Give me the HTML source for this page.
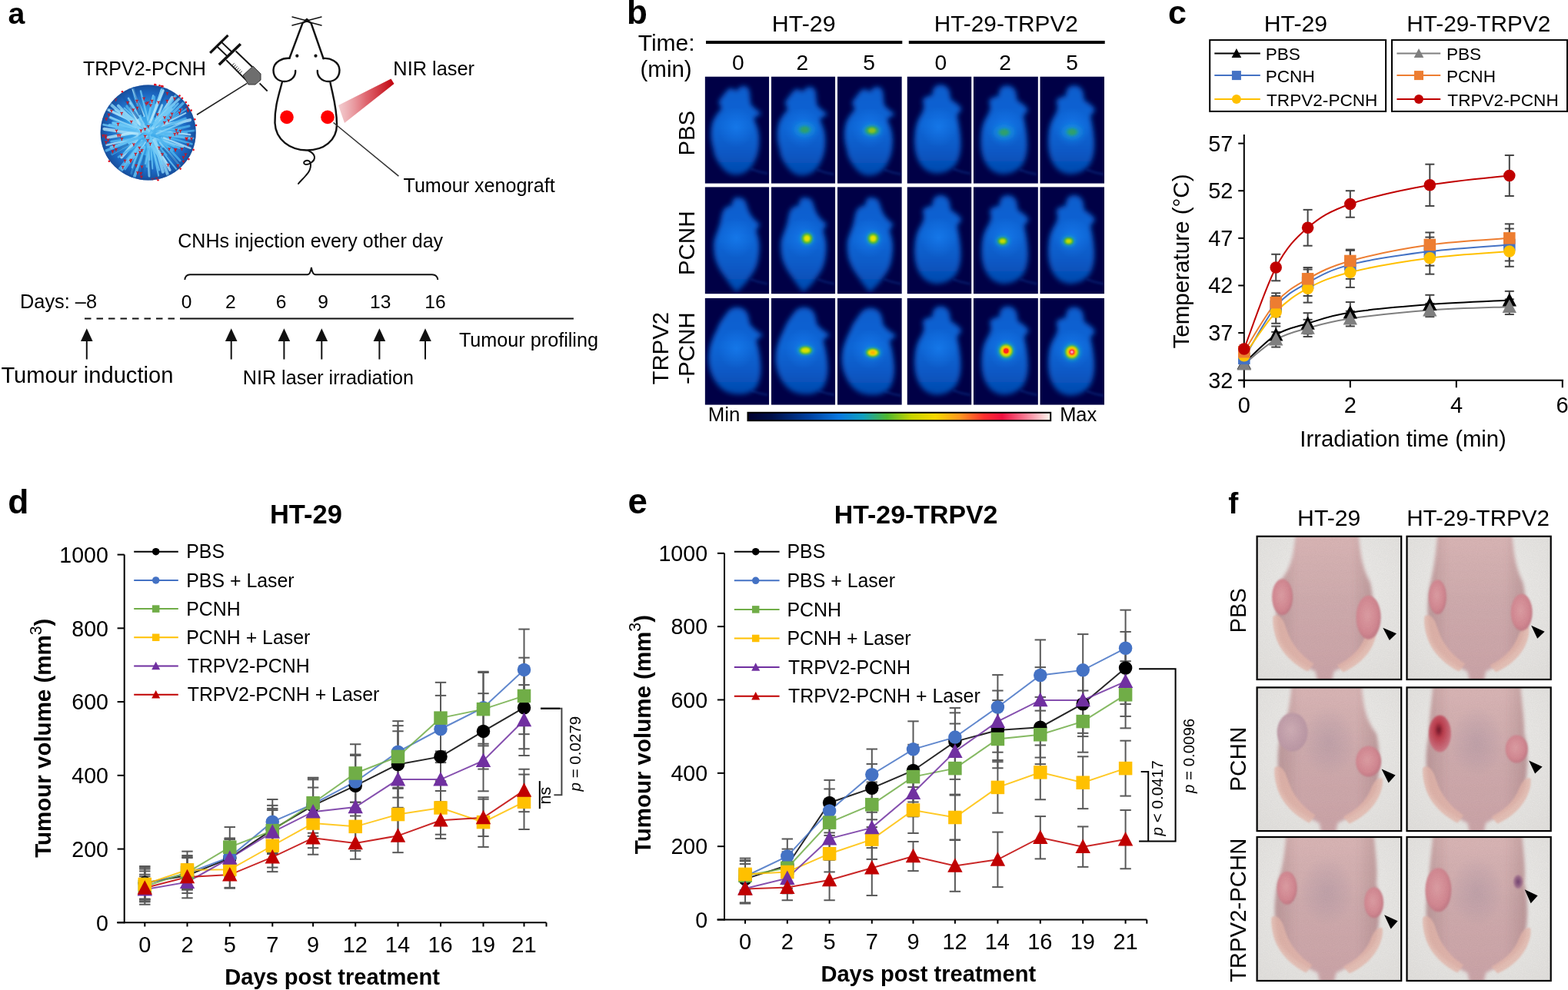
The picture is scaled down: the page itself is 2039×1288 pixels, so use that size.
<!DOCTYPE html><html><head><meta charset="utf-8"><title>Figure</title>
<style>html,body{margin:0;padding:0;background:#fff;}svg{display:block;}</style></head><body>
<svg width="2039" height="1288" viewBox="0 0 2039 1288" font-family="'Liberation Sans', Arial, Helvetica, sans-serif">
<rect width="2039" height="1288" fill="#fff"/>
<defs>
<filter id="blur3" x="-30%" y="-30%" width="160%" height="160%"><feGaussianBlur stdDeviation="2.6"/></filter>
<filter id="blur1" x="-30%" y="-30%" width="160%" height="160%"><feGaussianBlur stdDeviation="1.2"/></filter>
<filter id="blur2" x="-30%" y="-30%" width="160%" height="160%"><feGaussianBlur stdDeviation="2"/></filter>
<filter id="blur5" x="-30%" y="-30%" width="160%" height="160%"><feGaussianBlur stdDeviation="5"/></filter>
<radialGradient id="sph" cx="0.5" cy="0.5" r="0.5">
<stop offset="0" stop-color="#46b4f0"/><stop offset="0.5" stop-color="#3098e0"/><stop offset="0.82" stop-color="#1c66c0"/><stop offset="1" stop-color="#16509e"/></radialGradient>
<linearGradient id="laser" x1="0" y1="0" x2="1" y2="0">
<stop offset="0" stop-color="#e9a3a8" stop-opacity="0.55"/><stop offset="0.5" stop-color="#d94a55" stop-opacity="0.85"/><stop offset="1" stop-color="#c0000b"/></linearGradient>
<linearGradient id="cbar" x1="0" y1="0" x2="1" y2="0">
<stop offset="0" stop-color="#000030"/><stop offset="0.08" stop-color="#00104a"/><stop offset="0.2" stop-color="#0040a0"/>
<stop offset="0.3" stop-color="#0a78e0"/><stop offset="0.38" stop-color="#10a0c0"/><stop offset="0.46" stop-color="#50b830"/>
<stop offset="0.54" stop-color="#c8d400"/><stop offset="0.62" stop-color="#f8d800"/><stop offset="0.7" stop-color="#ff9820"/>
<stop offset="0.78" stop-color="#ff3030"/><stop offset="0.84" stop-color="#f01040"/><stop offset="0.92" stop-color="#f88098"/>
<stop offset="1" stop-color="#fff8f0"/></linearGradient>
</defs>
<text x="10.42" y="31.00" font-size="39.25" font-weight="bold" fill="#000">a</text>
<text x="107.90" y="98.30" font-size="25.06" fill="#000">TRPV2-PCNH</text>
<text x="511.37" y="97.70" font-size="25.36" fill="#000">NIR laser</text>
<text x="524.50" y="250.20" font-size="25.10" fill="#000">Tumour xenograft</text>
<clipPath id="sphclip"><circle cx="192.7" cy="172.5" r="62"/></clipPath>
<circle cx="192.7" cy="172.5" r="62" fill="url(#sph)"/>
<g clip-path="url(#sphclip)">
<line x1="212.75" y1="172.84" x2="242.89" y2="173.20" stroke="#5abcf2" stroke-width="2.4177844688762185" stroke-opacity="0.8" stroke-linecap="round"/>
<line x1="203.40" y1="169.99" x2="247.09" y2="175.23" stroke="#b4e6fb" stroke-width="2.667482777773956" stroke-opacity="0.8" stroke-linecap="round"/>
<line x1="208.88" y1="163.71" x2="247.12" y2="156.18" stroke="#b4e6fb" stroke-width="4.122467118476247" stroke-opacity="0.8" stroke-linecap="round"/>
<line x1="206.35" y1="167.40" x2="234.55" y2="168.91" stroke="#5abcf2" stroke-width="2.1389628241286607" stroke-opacity="0.8" stroke-linecap="round"/>
<line x1="212.06" y1="171.62" x2="246.07" y2="164.06" stroke="#4fb4ee" stroke-width="2.969168456644645" stroke-opacity="0.8" stroke-linecap="round"/>
<line x1="203.86" y1="174.03" x2="247.25" y2="179.98" stroke="#6cc8f6" stroke-width="3.0061257395190273" stroke-opacity="0.8" stroke-linecap="round"/>
<line x1="214.67" y1="174.14" x2="257.73" y2="169.30" stroke="#4fb4ee" stroke-width="2.69360987743421" stroke-opacity="0.8" stroke-linecap="round"/>
<line x1="194.49" y1="171.76" x2="249.40" y2="187.25" stroke="#4fb4ee" stroke-width="2.850329769753056" stroke-opacity="0.8" stroke-linecap="round"/>
<line x1="210.06" y1="179.48" x2="225.92" y2="189.62" stroke="#6cc8f6" stroke-width="3.033972007230066" stroke-opacity="0.8" stroke-linecap="round"/>
<line x1="199.07" y1="178.52" x2="224.69" y2="195.27" stroke="#4fb4ee" stroke-width="2.7411642401793395" stroke-opacity="0.8" stroke-linecap="round"/>
<line x1="191.59" y1="177.46" x2="237.96" y2="191.03" stroke="#8ed6f8" stroke-width="2.542053487564886" stroke-opacity="0.8" stroke-linecap="round"/>
<line x1="194.71" y1="168.95" x2="251.78" y2="180.05" stroke="#5abcf2" stroke-width="2.4144480286861563" stroke-opacity="0.8" stroke-linecap="round"/>
<line x1="212.97" y1="179.36" x2="247.72" y2="192.90" stroke="#b4e6fb" stroke-width="2.2563175728073523" stroke-opacity="0.8" stroke-linecap="round"/>
<line x1="195.22" y1="179.35" x2="233.13" y2="192.45" stroke="#5abcf2" stroke-width="2.669119329716177" stroke-opacity="0.8" stroke-linecap="round"/>
<line x1="196.80" y1="180.20" x2="230.00" y2="220.84" stroke="#6cc8f6" stroke-width="2.0926372049485424" stroke-opacity="0.8" stroke-linecap="round"/>
<line x1="197.97" y1="180.61" x2="216.22" y2="201.70" stroke="#4fb4ee" stroke-width="2.849573902498758" stroke-opacity="0.8" stroke-linecap="round"/>
<line x1="200.04" y1="171.89" x2="234.24" y2="208.96" stroke="#4fb4ee" stroke-width="2.817748902505102" stroke-opacity="0.8" stroke-linecap="round"/>
<line x1="203.33" y1="190.42" x2="219.66" y2="215.44" stroke="#b4e6fb" stroke-width="2.4022209747131074" stroke-opacity="0.8" stroke-linecap="round"/>
<line x1="207.83" y1="185.49" x2="234.10" y2="216.06" stroke="#8ed6f8" stroke-width="2.3486465620006145" stroke-opacity="0.8" stroke-linecap="round"/>
<line x1="199.65" y1="182.40" x2="220.95" y2="221.30" stroke="#b4e6fb" stroke-width="3.327775272523576" stroke-opacity="0.8" stroke-linecap="round"/>
<line x1="189.35" y1="177.47" x2="209.46" y2="207.36" stroke="#8ed6f8" stroke-width="3.6276230495428656" stroke-opacity="0.8" stroke-linecap="round"/>
<line x1="198.12" y1="191.37" x2="207.11" y2="221.32" stroke="#6cc8f6" stroke-width="2.278080383706629" stroke-opacity="0.8" stroke-linecap="round"/>
<line x1="201.36" y1="184.84" x2="211.93" y2="223.63" stroke="#8ed6f8" stroke-width="4.018192392683666" stroke-opacity="0.8" stroke-linecap="round"/>
<line x1="193.44" y1="172.59" x2="210.18" y2="213.66" stroke="#6cc8f6" stroke-width="2.1025159030240648" stroke-opacity="0.8" stroke-linecap="round"/>
<line x1="201.27" y1="181.62" x2="219.53" y2="231.19" stroke="#8ed6f8" stroke-width="3.9600685059335876" stroke-opacity="0.8" stroke-linecap="round"/>
<line x1="192.34" y1="186.79" x2="194.26" y2="228.97" stroke="#8ed6f8" stroke-width="3.297726388850638" stroke-opacity="0.8" stroke-linecap="round"/>
<line x1="195.68" y1="182.62" x2="198.28" y2="219.40" stroke="#6cc8f6" stroke-width="2.046770192060023" stroke-opacity="0.8" stroke-linecap="round"/>
<line x1="196.88" y1="182.34" x2="206.10" y2="228.54" stroke="#6cc8f6" stroke-width="2.1655783802032444" stroke-opacity="0.8" stroke-linecap="round"/>
<line x1="183.84" y1="190.08" x2="171.00" y2="226.09" stroke="#4fb4ee" stroke-width="2.7740350126239584" stroke-opacity="0.8" stroke-linecap="round"/>
<line x1="187.50" y1="191.37" x2="174.31" y2="231.20" stroke="#6cc8f6" stroke-width="3.899639882891152" stroke-opacity="0.8" stroke-linecap="round"/>
<line x1="188.12" y1="185.30" x2="178.96" y2="218.36" stroke="#5abcf2" stroke-width="2.1589480040702558" stroke-opacity="0.8" stroke-linecap="round"/>
<line x1="193.56" y1="175.06" x2="191.13" y2="216.86" stroke="#4fb4ee" stroke-width="2.854559930081317" stroke-opacity="0.8" stroke-linecap="round"/>
<line x1="184.65" y1="183.02" x2="172.29" y2="217.77" stroke="#6cc8f6" stroke-width="3.1411337096278547" stroke-opacity="0.8" stroke-linecap="round"/>
<line x1="196.63" y1="180.42" x2="188.66" y2="212.36" stroke="#6cc8f6" stroke-width="3.0939512708476298" stroke-opacity="0.8" stroke-linecap="round"/>
<line x1="192.64" y1="193.32" x2="185.70" y2="216.67" stroke="#4fb4ee" stroke-width="2.3150848306112093" stroke-opacity="0.8" stroke-linecap="round"/>
<line x1="178.08" y1="181.47" x2="158.15" y2="204.43" stroke="#b4e6fb" stroke-width="3.9617992246990217" stroke-opacity="0.8" stroke-linecap="round"/>
<line x1="184.85" y1="184.66" x2="168.17" y2="207.51" stroke="#8ed6f8" stroke-width="3.936591619783762" stroke-opacity="0.8" stroke-linecap="round"/>
<line x1="188.44" y1="185.19" x2="168.09" y2="211.64" stroke="#b4e6fb" stroke-width="2.771639308643418" stroke-opacity="0.8" stroke-linecap="round"/>
<line x1="188.35" y1="168.61" x2="158.96" y2="192.87" stroke="#8ed6f8" stroke-width="2.2482246264176724" stroke-opacity="0.8" stroke-linecap="round"/>
<line x1="180.93" y1="188.84" x2="155.16" y2="219.81" stroke="#5abcf2" stroke-width="3.08652580737117" stroke-opacity="0.8" stroke-linecap="round"/>
<line x1="182.50" y1="187.60" x2="155.34" y2="225.20" stroke="#6cc8f6" stroke-width="3.823200186113035" stroke-opacity="0.8" stroke-linecap="round"/>
<line x1="187.31" y1="184.82" x2="162.74" y2="220.03" stroke="#4fb4ee" stroke-width="2.679866773101911" stroke-opacity="0.8" stroke-linecap="round"/>
<line x1="193.31" y1="178.89" x2="153.87" y2="204.34" stroke="#4fb4ee" stroke-width="2.5222998195466353" stroke-opacity="0.8" stroke-linecap="round"/>
<line x1="192.13" y1="173.56" x2="145.48" y2="200.23" stroke="#5abcf2" stroke-width="3.4410946891294034" stroke-opacity="0.8" stroke-linecap="round"/>
<line x1="173.24" y1="180.68" x2="138.64" y2="188.64" stroke="#b4e6fb" stroke-width="2.563292886265437" stroke-opacity="0.8" stroke-linecap="round"/>
<line x1="178.37" y1="182.19" x2="143.89" y2="191.62" stroke="#8ed6f8" stroke-width="2.5991808601683712" stroke-opacity="0.8" stroke-linecap="round"/>
<line x1="178.37" y1="177.55" x2="145.10" y2="192.77" stroke="#8ed6f8" stroke-width="2.8657356654649675" stroke-opacity="0.8" stroke-linecap="round"/>
<line x1="172.37" y1="171.99" x2="152.94" y2="176.60" stroke="#b4e6fb" stroke-width="2.285801826351184" stroke-opacity="0.8" stroke-linecap="round"/>
<line x1="180.65" y1="178.93" x2="135.17" y2="197.19" stroke="#5abcf2" stroke-width="3.435882316041781" stroke-opacity="0.8" stroke-linecap="round"/>
<line x1="186.14" y1="165.72" x2="147.67" y2="160.25" stroke="#6cc8f6" stroke-width="3.588258432638261" stroke-opacity="0.8" stroke-linecap="round"/>
<line x1="178.43" y1="173.95" x2="135.56" y2="167.87" stroke="#b4e6fb" stroke-width="4.157084932873049" stroke-opacity="0.8" stroke-linecap="round"/>
<line x1="180.86" y1="172.17" x2="134.30" y2="162.21" stroke="#6cc8f6" stroke-width="2.7667154946206685" stroke-opacity="0.8" stroke-linecap="round"/>
<line x1="182.71" y1="171.07" x2="140.44" y2="178.89" stroke="#b4e6fb" stroke-width="4.0234677796252285" stroke-opacity="0.8" stroke-linecap="round"/>
<line x1="174.70" y1="180.35" x2="144.59" y2="184.08" stroke="#5abcf2" stroke-width="2.7370095201617746" stroke-opacity="0.8" stroke-linecap="round"/>
<line x1="189.70" y1="171.92" x2="151.71" y2="167.05" stroke="#5abcf2" stroke-width="3.8479481733690934" stroke-opacity="0.8" stroke-linecap="round"/>
<line x1="172.70" y1="165.40" x2="142.39" y2="162.85" stroke="#6cc8f6" stroke-width="3.6672461844020425" stroke-opacity="0.8" stroke-linecap="round"/>
<line x1="174.74" y1="168.17" x2="143.47" y2="152.81" stroke="#5abcf2" stroke-width="3.8559714778949807" stroke-opacity="0.8" stroke-linecap="round"/>
<line x1="188.46" y1="165.80" x2="151.60" y2="147.67" stroke="#5abcf2" stroke-width="2.4581270595625284" stroke-opacity="0.8" stroke-linecap="round"/>
<line x1="175.66" y1="160.17" x2="149.97" y2="143.15" stroke="#8ed6f8" stroke-width="2.9043837515934414" stroke-opacity="0.8" stroke-linecap="round"/>
<line x1="192.72" y1="172.03" x2="146.71" y2="159.75" stroke="#6cc8f6" stroke-width="3.135239097611442" stroke-opacity="0.8" stroke-linecap="round"/>
<line x1="176.56" y1="166.04" x2="143.67" y2="152.64" stroke="#8ed6f8" stroke-width="2.1449805024848643" stroke-opacity="0.8" stroke-linecap="round"/>
<line x1="186.81" y1="164.03" x2="137.30" y2="140.26" stroke="#4fb4ee" stroke-width="2.5418104174804337" stroke-opacity="0.8" stroke-linecap="round"/>
<line x1="188.16" y1="164.69" x2="138.14" y2="141.89" stroke="#b4e6fb" stroke-width="3.154959925248267" stroke-opacity="0.8" stroke-linecap="round"/>
<line x1="193.87" y1="170.28" x2="161.66" y2="140.58" stroke="#6cc8f6" stroke-width="2.078374682568271" stroke-opacity="0.8" stroke-linecap="round"/>
<line x1="194.07" y1="170.18" x2="157.78" y2="143.79" stroke="#8ed6f8" stroke-width="3.3634859390363836" stroke-opacity="0.8" stroke-linecap="round"/>
<line x1="179.74" y1="163.36" x2="159.39" y2="149.25" stroke="#4fb4ee" stroke-width="3.5789317029342316" stroke-opacity="0.8" stroke-linecap="round"/>
<line x1="181.61" y1="156.91" x2="169.48" y2="142.57" stroke="#5abcf2" stroke-width="3.3547476451948484" stroke-opacity="0.8" stroke-linecap="round"/>
<line x1="177.18" y1="161.45" x2="153.87" y2="137.60" stroke="#8ed6f8" stroke-width="3.872767974395088" stroke-opacity="0.8" stroke-linecap="round"/>
<line x1="182.27" y1="156.84" x2="165.32" y2="138.33" stroke="#4fb4ee" stroke-width="3.9858905658013892" stroke-opacity="0.8" stroke-linecap="round"/>
<line x1="185.29" y1="170.69" x2="142.35" y2="134.58" stroke="#8ed6f8" stroke-width="3.9525917173407668" stroke-opacity="0.8" stroke-linecap="round"/>
<line x1="181.50" y1="160.39" x2="169.06" y2="134.56" stroke="#b4e6fb" stroke-width="3.195208878352186" stroke-opacity="0.8" stroke-linecap="round"/>
<line x1="195.13" y1="167.41" x2="182.96" y2="118.53" stroke="#6cc8f6" stroke-width="2.4420549411608286" stroke-opacity="0.8" stroke-linecap="round"/>
<line x1="183.26" y1="154.52" x2="172.10" y2="111.50" stroke="#5abcf2" stroke-width="3.3962554832394405" stroke-opacity="0.8" stroke-linecap="round"/>
<line x1="187.54" y1="151.14" x2="172.34" y2="115.48" stroke="#b4e6fb" stroke-width="2.2335813079287883" stroke-opacity="0.8" stroke-linecap="round"/>
<line x1="187.28" y1="161.80" x2="167.00" y2="127.79" stroke="#8ed6f8" stroke-width="2.41705649946615" stroke-opacity="0.8" stroke-linecap="round"/>
<line x1="188.61" y1="170.48" x2="170.34" y2="137.31" stroke="#6cc8f6" stroke-width="3.2755132908841906" stroke-opacity="0.8" stroke-linecap="round"/>
<line x1="181.42" y1="161.80" x2="169.74" y2="140.16" stroke="#b4e6fb" stroke-width="3.0273117075724563" stroke-opacity="0.8" stroke-linecap="round"/>
<line x1="197.63" y1="160.19" x2="202.46" y2="136.14" stroke="#8ed6f8" stroke-width="2.3987922109477435" stroke-opacity="0.8" stroke-linecap="round"/>
<line x1="192.45" y1="156.05" x2="199.17" y2="124.29" stroke="#8ed6f8" stroke-width="2.2085636371942887" stroke-opacity="0.8" stroke-linecap="round"/>
<line x1="199.00" y1="167.36" x2="210.39" y2="136.87" stroke="#b4e6fb" stroke-width="3.253304708891595" stroke-opacity="0.8" stroke-linecap="round"/>
<line x1="197.01" y1="160.16" x2="200.17" y2="126.28" stroke="#4fb4ee" stroke-width="4.004857862411461" stroke-opacity="0.8" stroke-linecap="round"/>
<line x1="197.21" y1="156.19" x2="211.42" y2="115.56" stroke="#4fb4ee" stroke-width="3.935651323091407" stroke-opacity="0.8" stroke-linecap="round"/>
<line x1="196.78" y1="156.32" x2="209.75" y2="116.48" stroke="#8ed6f8" stroke-width="2.1552136402885065" stroke-opacity="0.8" stroke-linecap="round"/>
<line x1="192.60" y1="162.18" x2="196.94" y2="135.20" stroke="#5abcf2" stroke-width="2.1090535812872337" stroke-opacity="0.8" stroke-linecap="round"/>
<line x1="196.61" y1="167.21" x2="223.17" y2="141.82" stroke="#8ed6f8" stroke-width="3.172775289185604" stroke-opacity="0.8" stroke-linecap="round"/>
<line x1="206.21" y1="155.35" x2="223.87" y2="126.97" stroke="#b4e6fb" stroke-width="4.15619076389677" stroke-opacity="0.8" stroke-linecap="round"/>
<line x1="195.15" y1="159.05" x2="212.26" y2="118.02" stroke="#b4e6fb" stroke-width="3.110474830202797" stroke-opacity="0.8" stroke-linecap="round"/>
<line x1="199.79" y1="160.02" x2="215.25" y2="142.40" stroke="#4fb4ee" stroke-width="3.9924151819189273" stroke-opacity="0.8" stroke-linecap="round"/>
<line x1="199.83" y1="164.06" x2="231.02" y2="121.01" stroke="#6cc8f6" stroke-width="3.4036277173277494" stroke-opacity="0.8" stroke-linecap="round"/>
<line x1="196.11" y1="173.38" x2="231.37" y2="134.87" stroke="#6cc8f6" stroke-width="2.85013067905857" stroke-opacity="0.8" stroke-linecap="round"/>
<line x1="201.68" y1="169.71" x2="241.69" y2="130.69" stroke="#5abcf2" stroke-width="3.3445775204333437" stroke-opacity="0.8" stroke-linecap="round"/>
<line x1="201.60" y1="170.16" x2="241.23" y2="154.08" stroke="#4fb4ee" stroke-width="3.166897593652091" stroke-opacity="0.8" stroke-linecap="round"/>
<line x1="198.66" y1="170.88" x2="246.30" y2="139.08" stroke="#4fb4ee" stroke-width="2.0590948822410957" stroke-opacity="0.8" stroke-linecap="round"/>
<line x1="203.60" y1="165.86" x2="241.34" y2="147.10" stroke="#b4e6fb" stroke-width="2.116141196896081" stroke-opacity="0.8" stroke-linecap="round"/>
<line x1="201.15" y1="169.30" x2="236.47" y2="141.74" stroke="#4fb4ee" stroke-width="2.1617094215355928" stroke-opacity="0.8" stroke-linecap="round"/>
<line x1="203.50" y1="174.07" x2="241.41" y2="157.92" stroke="#8ed6f8" stroke-width="2.099954689676991" stroke-opacity="0.8" stroke-linecap="round"/>
<line x1="202.53" y1="157.32" x2="235.21" y2="126.39" stroke="#8ed6f8" stroke-width="3.327971240536074" stroke-opacity="0.8" stroke-linecap="round"/>
<line x1="200.18" y1="160.66" x2="226.78" y2="135.85" stroke="#6cc8f6" stroke-width="2.7847335574166427" stroke-opacity="0.8" stroke-linecap="round"/>
<line x1="206.99" y1="193.45" x2="229.38" y2="226.28" stroke="#1458a8" stroke-width="2.279556507883836" stroke-opacity="0.6"/>
<line x1="166.88" y1="187.34" x2="136.26" y2="204.94" stroke="#1458a8" stroke-width="3.279186317059944" stroke-opacity="0.6"/>
<line x1="182.19" y1="149.41" x2="165.73" y2="113.25" stroke="#1458a8" stroke-width="3.4877336998398043" stroke-opacity="0.6"/>
<line x1="201.11" y1="153.10" x2="218.60" y2="112.78" stroke="#1458a8" stroke-width="2.5802581568700775" stroke-opacity="0.6"/>
<line x1="211.70" y1="192.45" x2="237.60" y2="219.64" stroke="#1458a8" stroke-width="3.0058969094261467" stroke-opacity="0.6"/>
<line x1="182.61" y1="198.66" x2="169.27" y2="233.24" stroke="#1458a8" stroke-width="3.693123301255463" stroke-opacity="0.6"/>
<line x1="188.06" y1="202.08" x2="182.62" y2="236.81" stroke="#1458a8" stroke-width="3.450150989962971" stroke-opacity="0.6"/>
<line x1="185.73" y1="151.49" x2="172.21" y2="110.71" stroke="#1458a8" stroke-width="2.5572813414536357" stroke-opacity="0.6"/>
<line x1="195.11" y1="208.73" x2="197.02" y2="237.46" stroke="#1458a8" stroke-width="3.004298150237215" stroke-opacity="0.6"/>
<line x1="179.96" y1="154.26" x2="155.41" y2="119.14" stroke="#1458a8" stroke-width="3.3663410550282578" stroke-opacity="0.6"/>
<path d="M186.9,166.5 L188.5,168.1 L190.1,166.5 M188.5,168.1 L188.5,170.3" stroke="#d0101c" stroke-width="1.2" fill="none"/>
<path d="M190.5,181.1 L192.1,182.7 L193.7,181.1 M192.1,182.7 L192.1,184.9" stroke="#d0101c" stroke-width="1.2" fill="none"/>
<path d="M219.5,177.8 L221.1,179.4 L222.7,177.8 M221.1,179.4 L221.1,181.6" stroke="#d0101c" stroke-width="1.2" fill="none"/>
<path d="M181.6,224.0 L183.2,225.6 L184.8,224.0 M183.2,225.6 L183.2,227.8" stroke="#d0101c" stroke-width="1.2" fill="none"/>
<path d="M212.3,158.0 L213.9,159.6 L215.5,158.0 M213.9,159.6 L213.9,161.8" stroke="#d0101c" stroke-width="1.2" fill="none"/>
<path d="M197.0,232.0 L198.6,233.6 L200.2,232.0 M198.6,233.6 L198.6,235.8" stroke="#d0101c" stroke-width="1.2" fill="none"/>
<path d="M154.4,174.6 L156.0,176.2 L157.6,174.6 M156.0,176.2 L156.0,178.4" stroke="#d0101c" stroke-width="1.2" fill="none"/>
<path d="M168.1,208.0 L169.7,209.6 L171.3,208.0 M169.7,209.6 L169.7,211.8" stroke="#d0101c" stroke-width="1.2" fill="none"/>
<path d="M229.8,213.9 L231.4,215.5 L233.0,213.9 M231.4,215.5 L231.4,217.7" stroke="#d0101c" stroke-width="1.2" fill="none"/>
<path d="M204.5,131.6 L206.1,133.2 L207.7,131.6 M206.1,133.2 L206.1,135.4" stroke="#d0101c" stroke-width="1.2" fill="none"/>
<path d="M215.9,119.9 L217.5,121.5 L219.1,119.9 M217.5,121.5 L217.5,123.7" stroke="#d0101c" stroke-width="1.2" fill="none"/>
<path d="M196.0,129.9 L197.6,131.5 L199.2,129.9 M197.6,131.5 L197.6,133.7" stroke="#d0101c" stroke-width="1.2" fill="none"/>
<path d="M190.4,132.2 L192.0,133.8 L193.6,132.2 M192.0,133.8 L192.0,136.0" stroke="#d0101c" stroke-width="1.2" fill="none"/>
<path d="M205.3,190.6 L206.9,192.2 L208.5,190.6 M206.9,192.2 L206.9,194.4" stroke="#d0101c" stroke-width="1.2" fill="none"/>
<path d="M215.8,129.9 L217.4,131.5 L219.0,129.9 M217.4,131.5 L217.4,133.7" stroke="#d0101c" stroke-width="1.2" fill="none"/>
<path d="M177.4,223.1 L179.0,224.7 L180.6,223.1 M179.0,224.7 L179.0,226.9" stroke="#d0101c" stroke-width="1.2" fill="none"/>
<path d="M203.3,147.3 L204.9,148.9 L206.5,147.3 M204.9,148.9 L204.9,151.1" stroke="#d0101c" stroke-width="1.2" fill="none"/>
<path d="M164.3,132.0 L165.9,133.6 L167.5,132.0 M165.9,133.6 L165.9,135.8" stroke="#d0101c" stroke-width="1.2" fill="none"/>
<path d="M156.8,179.2 L158.4,180.8 L160.0,179.2 M158.4,180.8 L158.4,183.0" stroke="#d0101c" stroke-width="1.2" fill="none"/>
<path d="M151.9,159.9 L153.5,161.5 L155.1,159.9 M153.5,161.5 L153.5,163.7" stroke="#d0101c" stroke-width="1.2" fill="none"/>
<path d="M140.1,147.7 L141.7,149.3 L143.3,147.7 M141.7,149.3 L141.7,151.5" stroke="#d0101c" stroke-width="1.2" fill="none"/>
<path d="M136.3,183.7 L137.9,185.3 L139.5,183.7 M137.9,185.3 L137.9,187.5" stroke="#d0101c" stroke-width="1.2" fill="none"/>
<path d="M225.6,172.9 L227.2,174.5 L228.8,172.9 M227.2,174.5 L227.2,176.7" stroke="#d0101c" stroke-width="1.2" fill="none"/>
<path d="M231.9,145.3 L233.5,146.9 L235.1,145.3 M233.5,146.9 L233.5,149.1" stroke="#d0101c" stroke-width="1.2" fill="none"/>
<path d="M176.4,129.9 L178.0,131.5 L179.6,129.9 M178.0,131.5 L178.0,133.7" stroke="#d0101c" stroke-width="1.2" fill="none"/>
<path d="M194.3,135.5 L195.9,137.1 L197.5,135.5 M195.9,137.1 L195.9,139.3" stroke="#d0101c" stroke-width="1.2" fill="none"/>
<path d="M212.5,151.3 L214.1,152.9 L215.7,151.3 M214.1,152.9 L214.1,155.1" stroke="#d0101c" stroke-width="1.2" fill="none"/>
<path d="M171.6,141.3 L173.2,142.9 L174.8,141.3 M173.2,142.9 L173.2,145.1" stroke="#d0101c" stroke-width="1.2" fill="none"/>
<path d="M220.4,151.3 L222.0,152.9 L223.6,151.3 M222.0,152.9 L222.0,155.1" stroke="#d0101c" stroke-width="1.2" fill="none"/>
<path d="M146.5,188.2 L148.1,189.8 L149.7,188.2 M148.1,189.8 L148.1,192.0" stroke="#d0101c" stroke-width="1.2" fill="none"/>
<path d="M233.1,141.3 L234.7,142.9 L236.3,141.3 M234.7,142.9 L234.7,145.1" stroke="#d0101c" stroke-width="1.2" fill="none"/>
<path d="M182.9,215.3 L184.5,216.9 L186.1,215.3 M184.5,216.9 L184.5,219.1" stroke="#d0101c" stroke-width="1.2" fill="none"/>
<path d="M233.0,168.9 L234.6,170.5 L236.2,168.9 M234.6,170.5 L234.6,172.7" stroke="#d0101c" stroke-width="1.2" fill="none"/>
<path d="M202.1,230.9 L203.7,232.5 L205.3,230.9 M203.7,232.5 L203.7,234.7" stroke="#d0101c" stroke-width="1.2" fill="none"/>
<path d="M185.5,126.7 L187.1,128.3 L188.7,126.7 M187.1,128.3 L187.1,130.5" stroke="#d0101c" stroke-width="1.2" fill="none"/>
<path d="M239.8,199.4 L241.4,201.0 L243.0,199.4 M241.4,201.0 L241.4,203.2" stroke="#d0101c" stroke-width="1.2" fill="none"/>
<path d="M241.5,178.6 L243.1,180.2 L244.7,178.6 M243.1,180.2 L243.1,182.4" stroke="#d0101c" stroke-width="1.2" fill="none"/>
<path d="M143.4,142.8 L145.0,144.4 L146.6,142.8 M145.0,144.4 L145.0,146.6" stroke="#d0101c" stroke-width="1.2" fill="none"/>
<path d="M188.5,133.4 L190.1,135.0 L191.7,133.4 M190.1,135.0 L190.1,137.2" stroke="#d0101c" stroke-width="1.2" fill="none"/>
<path d="M172.3,186.4 L173.9,188.0 L175.5,186.4 M173.9,188.0 L173.9,190.2" stroke="#d0101c" stroke-width="1.2" fill="none"/>
<path d="M169.2,156.8 L170.8,158.4 L172.4,156.8 M170.8,158.4 L170.8,160.6" stroke="#d0101c" stroke-width="1.2" fill="none"/>
<path d="M226.4,193.2 L228.0,194.8 L229.6,193.2 M228.0,194.8 L228.0,197.0" stroke="#d0101c" stroke-width="1.2" fill="none"/>
<path d="M225.3,126.7 L226.9,128.3 L228.5,126.7 M226.9,128.3 L226.9,130.5" stroke="#d0101c" stroke-width="1.2" fill="none"/>
<path d="M193.8,185.6 L195.4,187.2 L197.0,185.6 M195.4,187.2 L195.4,189.4" stroke="#d0101c" stroke-width="1.2" fill="none"/>
<path d="M209.4,199.2 L211.0,200.8 L212.6,199.2 M211.0,200.8 L211.0,203.0" stroke="#d0101c" stroke-width="1.2" fill="none"/>
<path d="M247.4,178.9 L249.0,180.5 L250.6,178.9 M249.0,180.5 L249.0,182.7" stroke="#d0101c" stroke-width="1.2" fill="none"/>
<path d="M149.3,193.0 L150.9,194.6 L152.5,193.0 M150.9,194.6 L150.9,196.8" stroke="#d0101c" stroke-width="1.2" fill="none"/>
<path d="M175.5,213.9 L177.1,215.5 L178.7,213.9 M177.1,215.5 L177.1,217.7" stroke="#d0101c" stroke-width="1.2" fill="none"/>
<path d="M174.7,198.9 L176.3,200.5 L177.9,198.9 M176.3,200.5 L176.3,202.7" stroke="#d0101c" stroke-width="1.2" fill="none"/>
<path d="M218.5,192.3 L220.1,193.9 L221.7,192.3 M220.1,193.9 L220.1,196.1" stroke="#d0101c" stroke-width="1.2" fill="none"/>
<path d="M240.6,179.0 L242.2,180.6 L243.8,179.0 M242.2,180.6 L242.2,182.8" stroke="#d0101c" stroke-width="1.2" fill="none"/>
<path d="M236.9,203.1 L238.5,204.7 L240.1,203.1 M238.5,204.7 L238.5,206.9" stroke="#d0101c" stroke-width="1.2" fill="none"/>
<path d="M144.9,195.5 L146.5,197.1 L148.1,195.5 M146.5,197.1 L146.5,199.3" stroke="#d0101c" stroke-width="1.2" fill="none"/>
<path d="M132.2,175.0 L133.8,176.6 L135.4,175.0 M133.8,176.6 L133.8,178.8" stroke="#d0101c" stroke-width="1.2" fill="none"/>
<path d="M169.0,206.6 L170.6,208.2 L172.2,206.6 M170.6,208.2 L170.6,210.4" stroke="#d0101c" stroke-width="1.2" fill="none"/>
<path d="M158.2,215.9 L159.8,217.5 L161.4,215.9 M159.8,217.5 L159.8,219.7" stroke="#d0101c" stroke-width="1.2" fill="none"/>
<path d="M179.7,190.8 L181.3,192.4 L182.9,190.8 M181.3,192.4 L181.3,194.6" stroke="#d0101c" stroke-width="1.2" fill="none"/>
<path d="M135.6,175.1 L137.2,176.7 L138.8,175.1 M137.2,176.7 L137.2,178.9" stroke="#d0101c" stroke-width="1.2" fill="none"/>
<path d="M234.9,192.3 L236.5,193.9 L238.1,192.3 M236.5,193.9 L236.5,196.1" stroke="#d0101c" stroke-width="1.2" fill="none"/>
<path d="M242.8,186.4 L244.4,188.0 L246.0,186.4 M244.4,188.0 L244.4,190.2" stroke="#d0101c" stroke-width="1.2" fill="none"/>
<path d="M227.6,167.6 L229.2,169.2 L230.8,167.6 M229.2,169.2 L229.2,171.4" stroke="#d0101c" stroke-width="1.2" fill="none"/>
<path d="M229.2,171.8 L230.8,173.4 L232.4,171.8 M230.8,173.4 L230.8,175.6" stroke="#d0101c" stroke-width="1.2" fill="none"/>
<path d="M226.9,193.4 L228.5,195.0 L230.1,193.4 M228.5,195.0 L228.5,197.2" stroke="#d0101c" stroke-width="1.2" fill="none"/>
<path d="M181.8,168.4 L183.4,170.0 L185.0,168.4 M183.4,170.0 L183.4,172.2" stroke="#d0101c" stroke-width="1.2" fill="none"/>
<path d="M187.1,175.7 L188.7,177.3 L190.3,175.7 M188.7,177.3 L188.7,179.5" stroke="#d0101c" stroke-width="1.2" fill="none"/>
<path d="M237.0,208.9 L238.6,210.5 L240.2,208.9 M238.6,210.5 L238.6,212.7" stroke="#d0101c" stroke-width="1.2" fill="none"/>
<path d="M217.6,155.3 L219.2,156.9 L220.8,155.3 M219.2,156.9 L219.2,159.1" stroke="#d0101c" stroke-width="1.2" fill="none"/>
<path d="M217.0,213.0 L218.6,214.6 L220.2,213.0 M218.6,214.6 L218.6,216.8" stroke="#d0101c" stroke-width="1.2" fill="none"/>
<path d="M177.0,138.8 L178.6,140.4 L180.2,138.8 M178.6,140.4 L178.6,142.6" stroke="#d0101c" stroke-width="1.2" fill="none"/>
<path d="M156.5,199.8 L158.1,201.4 L159.7,199.8 M158.1,201.4 L158.1,203.6" stroke="#d0101c" stroke-width="1.2" fill="none"/>
<path d="M182.3,228.6 L183.9,230.2 L185.5,228.6 M183.9,230.2 L183.9,232.4" stroke="#d0101c" stroke-width="1.2" fill="none"/>
<path d="M139.0,180.4 L140.6,182.0 L142.2,180.4 M140.6,182.0 L140.6,184.2" stroke="#d0101c" stroke-width="1.2" fill="none"/>
<path d="M183.0,194.0 L184.6,195.6 L186.2,194.0 M184.6,195.6 L184.6,197.8" stroke="#d0101c" stroke-width="1.2" fill="none"/>
<path d="M242.9,142.3 L244.5,143.9 L246.1,142.3 M244.5,143.9 L244.5,146.1" stroke="#d0101c" stroke-width="1.2" fill="none"/>
<path d="M191.3,162.8 L192.9,164.4 L194.5,162.8 M192.9,164.4 L192.9,166.6" stroke="#d0101c" stroke-width="1.2" fill="none"/>
<path d="M136.0,177.5 L137.6,179.1 L139.2,177.5 M137.6,179.1 L137.6,181.3" stroke="#d0101c" stroke-width="1.2" fill="none"/>
<path d="M180.5,196.4 L182.1,198.0 L183.7,196.4 M182.1,198.0 L182.1,200.2" stroke="#d0101c" stroke-width="1.2" fill="none"/>
<path d="M160.9,207.7 L162.5,209.3 L164.1,207.7 M162.5,209.3 L162.5,211.5" stroke="#d0101c" stroke-width="1.2" fill="none"/>
<path d="M156.6,145.9 L158.2,147.5 L159.8,145.9 M158.2,147.5 L158.2,149.7" stroke="#d0101c" stroke-width="1.2" fill="none"/>
<path d="M149.9,168.7 L151.5,170.3 L153.1,168.7 M151.5,170.3 L151.5,172.5" stroke="#d0101c" stroke-width="1.2" fill="none"/>
<path d="M222.1,146.7 L223.7,148.3 L225.3,146.7 M223.7,148.3 L223.7,150.5" stroke="#d0101c" stroke-width="1.2" fill="none"/>
<path d="M241.9,139.0 L243.5,140.6 L245.1,139.0 M243.5,140.6 L243.5,142.8" stroke="#d0101c" stroke-width="1.2" fill="none"/>
<path d="M149.0,127.9 L150.6,129.5 L152.2,127.9 M150.6,129.5 L150.6,131.7" stroke="#d0101c" stroke-width="1.2" fill="none"/>
<path d="M136.7,153.1 L138.3,154.7 L139.9,153.1 M138.3,154.7 L138.3,156.9" stroke="#d0101c" stroke-width="1.2" fill="none"/>
<path d="M151.9,174.7 L153.5,176.3 L155.1,174.7 M153.5,176.3 L153.5,178.5" stroke="#d0101c" stroke-width="1.2" fill="none"/>
</g>
<circle cx="192.7" cy="172.5" r="61" fill="none" stroke="#1a4f9c" stroke-width="2" stroke-opacity="0.6"/>
<circle cx="253.3" cy="155.2" r="1.3" fill="#e01020"/>
<circle cx="159.0" cy="119.3" r="1.3" fill="#e01020"/>
<circle cx="201.3" cy="110.1" r="1.3" fill="#e01020"/>
<circle cx="245.4" cy="207.1" r="1.3" fill="#e01020"/>
<circle cx="233.6" cy="124.6" r="1.3" fill="#e01020"/>
<circle cx="141.9" cy="209.7" r="1.3" fill="#e01020"/>
<circle cx="205.5" cy="234.2" r="1.3" fill="#e01020"/>
<circle cx="234.6" cy="219.6" r="1.3" fill="#e01020"/>
<circle cx="211.5" cy="112.4" r="1.3" fill="#e01020"/>
<circle cx="255.0" cy="163.0" r="1.3" fill="#e01020"/>
<circle cx="210.2" cy="112.0" r="1.3" fill="#e01020"/>
<circle cx="202.2" cy="110.2" r="1.3" fill="#e01020"/>
<circle cx="207.5" cy="111.3" r="1.3" fill="#e01020"/>
<circle cx="251.6" cy="194.9" r="1.3" fill="#e01020"/>
<circle cx="248.7" cy="143.6" r="1.3" fill="#e01020"/>
<circle cx="241.8" cy="133.0" r="1.3" fill="#e01020"/>
<circle cx="237.0" cy="127.7" r="1.3" fill="#e01020"/>
<circle cx="244.9" cy="137.2" r="1.3" fill="#e01020"/>
<line x1="256.00" y1="149.30" x2="321.30" y2="108.40" stroke="#222" stroke-width="1.6"/>
<line x1="273.20" y1="68.80" x2="296.50" y2="45.90" stroke="#111" stroke-width="3.2"/>
<line x1="287.60" y1="54.40" x2="301.60" y2="67.80" stroke="#111" stroke-width="2"/>
<line x1="282.00" y1="60.20" x2="296.00" y2="73.60" stroke="#111" stroke-width="2"/>
<line x1="284.80" y1="84.30" x2="312.80" y2="57.20" stroke="#111" stroke-width="3.6"/>
<line x1="306.60" y1="66.50" x2="337.90" y2="96.50" stroke="#111" stroke-width="2"/>
<line x1="294.20" y1="78.10" x2="323.10" y2="107.40" stroke="#111" stroke-width="2"/>
<polygon points="316.00,98.00 329.00,86.00 339.00,96.00 339.00,104.00 332.00,110.00 323.00,110.00" fill="#6e6e6e" stroke="#333" stroke-width="1"/>
<line x1="301.43" y1="85.42" x2="304.62" y2="82.33" stroke="#333" stroke-width="1"/>
<line x1="303.45" y1="87.48" x2="306.65" y2="84.38" stroke="#333" stroke-width="1"/>
<line x1="305.47" y1="89.53" x2="308.67" y2="86.43" stroke="#333" stroke-width="1"/>
<line x1="307.49" y1="91.58" x2="310.69" y2="88.48" stroke="#333" stroke-width="1"/>
<line x1="309.52" y1="93.63" x2="312.72" y2="90.53" stroke="#333" stroke-width="1"/>
<line x1="311.54" y1="95.68" x2="314.74" y2="92.58" stroke="#333" stroke-width="1"/>
<line x1="337.60" y1="108.40" x2="347.70" y2="118.50" stroke="#111" stroke-width="1.8"/>
<g fill="none" stroke="#111" stroke-width="2.4" stroke-linecap="round" stroke-linejoin="round">
<path d="M380,22 L399,27 L418,22 M380,33 L399,28 L418,33" stroke-width="1.4"/>
<path d="M376.5,75.5 L393.5,30 Q399,25 404.5,30 L420.5,76"/>
<path d="M376.5,75.8 C368,75 356,80 355.5,91 C355.5,101 362,106 370,106 C378,106 384.5,100 384.2,92"/>
<path d="M420.5,76 C429,75 441,80 441.5,91 C441.5,101 435,106 427,106 C419,106 412.5,100 412.8,92"/>
<path d="M367,106.5 C362,125 357,140 357.5,160 C358.5,182 377,195 399,195.5 C421,195.5 438,183 438,162 C438,140 433,125 429.5,107.5"/>
<path d="M401,196 C410,200 412,207 404,212 C396,217 392,211 398,209 C406,207 406,220 398,228 C394,233 390,236 388,239" stroke-width="2"/>
</g>
<circle cx="386.3" cy="72.7" r="2.1" fill="#111"/><circle cx="410.5" cy="72.7" r="2.1" fill="#111"/>
<polygon points="396,26 399,23.5 402,26 399,29" fill="#111"/>
<circle cx="373" cy="152.4" r="8.8" fill="#ff0000"/><circle cx="426" cy="152.4" r="8.8" fill="#ff0000"/>
<polygon points="440.00,137.00 508.50,102.50 512.50,109.00 448.00,160.00" fill="url(#laser)"/>
<line x1="433.60" y1="159.50" x2="518.40" y2="229.20" stroke="#333" stroke-width="1.6"/>
<text x="231.25" y="322.00" font-size="25.02" fill="#000">CNHs injection every other day</text>
<path d="M240.3,364 Q241,357.5 247,357.3 L400,357.3 Q403.5,357 404.9,348 Q406.3,357 410,357.3 L562,357.3 Q568.5,357.5 569.3,364" fill="none" stroke="#111" stroke-width="1.9"/>
<text x="25.97" y="401.40" font-size="25.36" fill="#000">Days: –8</text>
<text x="235.71" y="401.40" font-size="24.60" fill="#000">0</text>
<text x="293.02" y="401.40" font-size="24.60" fill="#000">2</text>
<text x="358.85" y="401.40" font-size="24.60" fill="#000">6</text>
<text x="413.27" y="401.40" font-size="24.60" fill="#000">9</text>
<text x="481.07" y="401.40" font-size="24.60" fill="#000">13</text>
<text x="552.27" y="401.40" font-size="24.60" fill="#000">16</text>
<line x1="110.00" y1="414.60" x2="236.00" y2="414.60" stroke="#111" stroke-width="2" stroke-dasharray="8.5 7"/>
<line x1="236.00" y1="414.60" x2="745.90" y2="414.60" stroke="#111" stroke-width="2"/>
<line x1="112.80" y1="440.00" x2="112.80" y2="467.50" stroke="#111" stroke-width="2"/>
<polygon points="112.80,427.30 120.60,444.00 105.00,444.00" fill="#111"/>
<line x1="300.70" y1="440.00" x2="300.70" y2="467.50" stroke="#111" stroke-width="2"/>
<polygon points="300.70,427.30 308.50,444.00 292.90,444.00" fill="#111"/>
<line x1="369.40" y1="440.00" x2="369.40" y2="467.50" stroke="#111" stroke-width="2"/>
<polygon points="369.40,427.30 377.20,444.00 361.60,444.00" fill="#111"/>
<line x1="418.30" y1="440.00" x2="418.30" y2="467.50" stroke="#111" stroke-width="2"/>
<polygon points="418.30,427.30 426.10,444.00 410.50,444.00" fill="#111"/>
<line x1="493.40" y1="440.00" x2="493.40" y2="467.50" stroke="#111" stroke-width="2"/>
<polygon points="493.40,427.30 501.20,444.00 485.60,444.00" fill="#111"/>
<line x1="553.00" y1="440.00" x2="553.00" y2="467.50" stroke="#111" stroke-width="2"/>
<polygon points="553.00,427.30 560.80,444.00 545.20,444.00" fill="#111"/>
<text x="596.90" y="450.50" font-size="25.20" fill="#000">Tumour profiling</text>
<text x="1.42" y="498.00" font-size="29.14" fill="#000">Tumour induction</text>
<text x="315.79" y="499.50" font-size="25.16" fill="#000">NIR laser irradiation</text>
<text x="814.94" y="31.30" font-size="43.96" font-weight="bold" fill="#000">b</text>
<text x="1003.87" y="41.40" font-size="30.40" fill="#000">HT-29</text>
<text x="1214.82" y="41.40" font-size="29.79" fill="#000">HT-29-TRPV2</text>
<text x="829.70" y="65.60" font-size="30.04" fill="#000">Time:</text>
<text x="832.53" y="100.30" font-size="29.51" fill="#000">(min)</text>
<line x1="918.00" y1="54.90" x2="1173.30" y2="54.90" stroke="#000" stroke-width="4"/>
<line x1="1181.80" y1="54.90" x2="1436.70" y2="54.90" stroke="#000" stroke-width="4"/>
<text x="952.05" y="91.20" font-size="28.20" fill="#000">0</text>
<text x="1035.62" y="91.20" font-size="28.20" fill="#000">2</text>
<text x="1122.32" y="91.20" font-size="28.20" fill="#000">5</text>
<text x="1215.60" y="91.20" font-size="28.20" fill="#000">0</text>
<text x="1299.32" y="91.20" font-size="28.20" fill="#000">2</text>
<text x="1386.17" y="91.20" font-size="28.20" fill="#000">5</text>
<text transform="translate(902.90,202.54) rotate(-90)" x="0" y="0" font-size="29.28" fill="#000">PBS</text>
<text transform="translate(903.20,358.37) rotate(-90)" x="0" y="0" font-size="29.66" fill="#000">PCNH</text>
<text transform="translate(868.90,500.49) rotate(-90)" x="0" y="0" font-size="29.33" fill="#000">TRPV2</text>
<text transform="translate(903.20,499.93) rotate(-90)" x="0" y="0" font-size="29.54" fill="#000">-PCNH</text>
<defs>
<linearGradient id="mbody" x1="0" y1="0" x2="0" y2="1"><stop offset="0" stop-color="#0a5ccc"/><stop offset="0.45" stop-color="#0a66d6"/><stop offset="0.75" stop-color="#0858c4"/><stop offset="1" stop-color="#0548ac"/></linearGradient>
<radialGradient id="mglow" cx="0.5" cy="0.5" r="0.5"><stop offset="0" stop-color="#1e8cff" stop-opacity="0.45"/><stop offset="1" stop-color="#1e8cff" stop-opacity="0"/></radialGradient>
<filter id="sb0_5" x="-50%" y="-50%" width="200%" height="200%"><feGaussianBlur stdDeviation="0.5"/></filter>
<filter id="sb0_6" x="-50%" y="-50%" width="200%" height="200%"><feGaussianBlur stdDeviation="0.6"/></filter>
<filter id="sb0_8" x="-50%" y="-50%" width="200%" height="200%"><feGaussianBlur stdDeviation="0.8"/></filter>
<filter id="sb0_9" x="-50%" y="-50%" width="200%" height="200%"><feGaussianBlur stdDeviation="0.9"/></filter>
<filter id="sb1_0" x="-50%" y="-50%" width="200%" height="200%"><feGaussianBlur stdDeviation="1.0"/></filter>
<filter id="sb1_2" x="-50%" y="-50%" width="200%" height="200%"><feGaussianBlur stdDeviation="1.2"/></filter>
<filter id="sb1_3" x="-50%" y="-50%" width="200%" height="200%"><feGaussianBlur stdDeviation="1.3"/></filter>
<filter id="sb1_5" x="-50%" y="-50%" width="200%" height="200%"><feGaussianBlur stdDeviation="1.5"/></filter>
<filter id="sb1_8" x="-50%" y="-50%" width="200%" height="200%"><feGaussianBlur stdDeviation="1.8"/></filter>
<filter id="sb2_2" x="-50%" y="-50%" width="200%" height="200%"><feGaussianBlur stdDeviation="2.2"/></filter>
<filter id="sb2_5" x="-50%" y="-50%" width="200%" height="200%"><feGaussianBlur stdDeviation="2.5"/></filter>
<filter id="sb3" x="-50%" y="-50%" width="200%" height="200%"><feGaussianBlur stdDeviation="3"/></filter>
<filter id="tblur" x="-20%" y="-20%" width="140%" height="140%"><feGaussianBlur stdDeviation="3.2"/></filter>
</defs>
<svg x="916.60" y="99.50" width="83.60" height="139.30" viewBox="0 0 84 139" preserveAspectRatio="none">
<rect width="84" height="139" fill="#000046"/>
<g transform="translate(0,0)">
<path d="M30,17 C34,14 38,16 41,19 C44,14 49,11 54,13 C58,15 59,20 59,25 L60,36 C64,41 70,45 74,48 C70,51 66,52 64,55 C67,62 71,70 71,82 C71,94 69,102 66,108 C62,118 56,124 47,127 C38,129 30,127 24,120 C17,112 12,104 11,94 C8,84 7,74 9,64 C10,58 12,55 15,50 C18,46 21,43 22,40 C19,37 17,34 19,31 C22,27 25,22 30,17 Z" fill="url(#mbody)" filter="url(#tblur)"/>
<ellipse cx="41" cy="66" rx="24" ry="26" fill="url(#mglow)"/>
<path d="M60,120 Q70,124 82,126" stroke="#0a48a8" stroke-width="3" fill="none" filter="url(#sb1_5)" opacity="0.35"/>
</g>
</svg>
<svg x="1002.80" y="99.50" width="83.40" height="139.30" viewBox="0 0 84 139" preserveAspectRatio="none">
<rect width="84" height="139" fill="#000046"/>
<g transform="translate(0,1)">
<path d="M30,17 C34,14 38,16 41,19 C44,14 49,11 54,13 C58,15 59,20 59,25 L60,36 C64,41 70,45 74,48 C70,51 66,52 64,55 C67,62 71,70 71,82 C71,94 69,102 66,108 C62,118 56,124 47,127 C38,129 30,127 24,120 C17,112 12,104 11,94 C8,84 7,74 9,64 C10,58 12,55 15,50 C18,46 21,43 22,40 C19,37 17,34 19,31 C22,27 25,22 30,17 Z" fill="url(#mbody)" filter="url(#tblur)"/>
<ellipse cx="41" cy="66" rx="24" ry="26" fill="url(#mglow)"/>
<path d="M60,120 Q70,124 82,126" stroke="#0a48a8" stroke-width="3" fill="none" filter="url(#sb1_5)" opacity="0.35"/>
</g>
<ellipse cx="44" cy="69" rx="14" ry="10" fill="#1898d8" fill-opacity="0.55" filter="url(#sb3)"/>
<ellipse cx="44" cy="69" rx="8" ry="5.5" fill="#209c90" fill-opacity="0.85" filter="url(#sb1_8)"/>
<ellipse cx="44" cy="69" rx="5" ry="3.5" fill="#30a068" fill-opacity="0.9" filter="url(#sb1_2)"/>
</svg>
<svg x="1089.00" y="99.50" width="83.80" height="139.30" viewBox="0 0 84 139" preserveAspectRatio="none">
<rect width="84" height="139" fill="#000046"/>
<g transform="translate(1,1)">
<path d="M30,17 C34,14 38,16 41,19 C44,14 49,11 54,13 C58,15 59,20 59,25 L60,36 C64,41 70,45 74,48 C70,51 66,52 64,55 C67,62 71,70 71,82 C71,94 69,102 66,108 C62,118 56,124 47,127 C38,129 30,127 24,120 C17,112 12,104 11,94 C8,84 7,74 9,64 C10,58 12,55 15,50 C18,46 21,43 22,40 C19,37 17,34 19,31 C22,27 25,22 30,17 Z" fill="url(#mbody)" filter="url(#tblur)"/>
<ellipse cx="41" cy="66" rx="24" ry="26" fill="url(#mglow)"/>
<path d="M60,120 Q70,124 82,126" stroke="#0a48a8" stroke-width="3" fill="none" filter="url(#sb1_5)" opacity="0.35"/>
</g>
<ellipse cx="45" cy="70" rx="13" ry="9" fill="#1098d0" fill-opacity="0.6" filter="url(#sb2_5)"/>
<ellipse cx="45" cy="70" rx="9" ry="6" fill="#30a860" fill-opacity="0.9" filter="url(#sb1_5)"/>
<ellipse cx="45" cy="70" rx="5" ry="3.5" fill="#88c020" fill-opacity="1" filter="url(#sb1_0)"/>
</svg>
<svg x="1179.50" y="99.50" width="84.00" height="139.30" viewBox="0 0 84 139" preserveAspectRatio="none">
<rect width="84" height="139" fill="#000046"/>
<g transform="translate(0,0)">
<path d="M33,20 C34,13 40,10 46,11 C52,12 56,17 56,24 L57,30 C62,33 67,36 71,42 C69,46 67,48 65,50 C67,60 70,74 70,88 C70,100 67,110 62,116 C56,122 48,126 38,126 C28,125 20,120 15,110 C10,100 9,88 10,76 C11,64 14,56 18,50 C20,46 22,42 22,38 C20,34 20,30 22,28 C25,26 29,25 33,24 Z" fill="url(#mbody)" filter="url(#tblur)"/>
<ellipse cx="41" cy="66" rx="24" ry="26" fill="url(#mglow)"/>
<path d="M60,120 Q70,124 82,126" stroke="#0a48a8" stroke-width="3" fill="none" filter="url(#sb1_5)" opacity="0.35"/>
</g>
</svg>
<svg x="1265.70" y="99.50" width="84.20" height="139.30" viewBox="0 0 84 139" preserveAspectRatio="none">
<rect width="84" height="139" fill="#000046"/>
<g transform="translate(0,1)">
<path d="M33,20 C34,13 40,10 46,11 C52,12 56,17 56,24 L57,30 C62,33 67,36 71,42 C69,46 67,48 65,50 C67,60 70,74 70,88 C70,100 67,110 62,116 C56,122 48,126 38,126 C28,125 20,120 15,110 C10,100 9,88 10,76 C11,64 14,56 18,50 C20,46 22,42 22,38 C20,34 20,30 22,28 C25,26 29,25 33,24 Z" fill="url(#mbody)" filter="url(#tblur)"/>
<ellipse cx="41" cy="66" rx="24" ry="26" fill="url(#mglow)"/>
<path d="M60,120 Q70,124 82,126" stroke="#0a48a8" stroke-width="3" fill="none" filter="url(#sb1_5)" opacity="0.35"/>
</g>
<ellipse cx="40" cy="72.5" rx="14" ry="10" fill="#1898d8" fill-opacity="0.55" filter="url(#sb3)"/>
<ellipse cx="40" cy="72.5" rx="8" ry="5.5" fill="#209c90" fill-opacity="0.85" filter="url(#sb1_8)"/>
<ellipse cx="40" cy="72.5" rx="5" ry="3.5" fill="#30a068" fill-opacity="0.9" filter="url(#sb1_2)"/>
</svg>
<svg x="1352.30" y="99.50" width="83.80" height="139.30" viewBox="0 0 84 139" preserveAspectRatio="none">
<rect width="84" height="139" fill="#000046"/>
<g transform="translate(1,1)">
<path d="M33,20 C34,13 40,10 46,11 C52,12 56,17 56,24 L57,30 C62,33 67,36 71,42 C69,46 67,48 65,50 C67,60 70,74 70,88 C70,100 67,110 62,116 C56,122 48,126 38,126 C28,125 20,120 15,110 C10,100 9,88 10,76 C11,64 14,56 18,50 C20,46 22,42 22,38 C20,34 20,30 22,28 C25,26 29,25 33,24 Z" fill="url(#mbody)" filter="url(#tblur)"/>
<ellipse cx="41" cy="66" rx="24" ry="26" fill="url(#mglow)"/>
<path d="M60,120 Q70,124 82,126" stroke="#0a48a8" stroke-width="3" fill="none" filter="url(#sb1_5)" opacity="0.35"/>
</g>
<ellipse cx="42" cy="72" rx="14" ry="10" fill="#1898d8" fill-opacity="0.55" filter="url(#sb3)"/>
<ellipse cx="42" cy="72" rx="8" ry="5.5" fill="#209c90" fill-opacity="0.85" filter="url(#sb1_8)"/>
<ellipse cx="42" cy="72" rx="5" ry="3.5" fill="#30a068" fill-opacity="0.9" filter="url(#sb1_2)"/>
</svg>
<svg x="916.60" y="243.20" width="83.60" height="139.20" viewBox="0 0 84 139" preserveAspectRatio="none">
<rect width="84" height="139" fill="#000046"/>
<g transform="translate(0,0)">
<path d="M36,18 C38,14 42,13 45,14 C50,14 53,17 54,21 L57,30 C60,38 66,44 72,48 C70,52 68,54 67,57 C70,66 72,74 71,84 C70,96 68,104 64,110 C58,120 50,130 41,137 C36,131 31,125 28,120 C22,112 18,106 15,98 C12,90 11,80 12,70 C14,62 18,54 20,46 C21,40 22,35 24,30 C27,26 31,24 35,24 Z" fill="url(#mbody)" filter="url(#tblur)"/>
<ellipse cx="41" cy="66" rx="24" ry="26" fill="url(#mglow)"/>
<path d="M60,120 Q70,124 82,126" stroke="#0a48a8" stroke-width="3" fill="none" filter="url(#sb1_5)" opacity="0.35"/>
</g>
</svg>
<svg x="1002.80" y="243.20" width="83.40" height="139.20" viewBox="0 0 84 139" preserveAspectRatio="none">
<rect width="84" height="139" fill="#000046"/>
<g transform="translate(1,0)">
<path d="M36,18 C38,14 42,13 45,14 C50,14 53,17 54,21 L57,30 C60,38 66,44 72,48 C70,52 68,54 67,57 C70,66 72,74 71,84 C70,96 68,104 64,110 C58,120 50,130 41,137 C36,131 31,125 28,120 C22,112 18,106 15,98 C12,90 11,80 12,70 C14,62 18,54 20,46 C21,40 22,35 24,30 C27,26 31,24 35,24 Z" fill="url(#mbody)" filter="url(#tblur)"/>
<ellipse cx="41" cy="66" rx="24" ry="26" fill="url(#mglow)"/>
<path d="M60,120 Q70,124 82,126" stroke="#0a48a8" stroke-width="3" fill="none" filter="url(#sb1_5)" opacity="0.35"/>
</g>
<ellipse cx="47" cy="67" rx="10" ry="10" fill="#10a0c8" fill-opacity="0.6" filter="url(#sb2_2)"/>
<ellipse cx="47" cy="67" rx="7" ry="7" fill="#50b838" fill-opacity="1" filter="url(#sb1_3)"/>
<ellipse cx="47" cy="67" rx="4.2" ry="4.2" fill="#e4e400" fill-opacity="1" filter="url(#sb0_9)"/>
</svg>
<svg x="1089.00" y="243.20" width="83.80" height="139.20" viewBox="0 0 84 139" preserveAspectRatio="none">
<rect width="84" height="139" fill="#000046"/>
<g transform="translate(1,0)">
<path d="M36,18 C38,14 42,13 45,14 C50,14 53,17 54,21 L57,30 C60,38 66,44 72,48 C70,52 68,54 67,57 C70,66 72,74 71,84 C70,96 68,104 64,110 C58,120 50,130 41,137 C36,131 31,125 28,120 C22,112 18,106 15,98 C12,90 11,80 12,70 C14,62 18,54 20,46 C21,40 22,35 24,30 C27,26 31,24 35,24 Z" fill="url(#mbody)" filter="url(#tblur)"/>
<ellipse cx="41" cy="66" rx="24" ry="26" fill="url(#mglow)"/>
<path d="M60,120 Q70,124 82,126" stroke="#0a48a8" stroke-width="3" fill="none" filter="url(#sb1_5)" opacity="0.35"/>
</g>
<ellipse cx="46.5" cy="67" rx="10" ry="10" fill="#10a0c8" fill-opacity="0.6" filter="url(#sb2_2)"/>
<ellipse cx="46.5" cy="67" rx="7" ry="7" fill="#50b838" fill-opacity="1" filter="url(#sb1_3)"/>
<ellipse cx="46.5" cy="67" rx="4.2" ry="4.2" fill="#e4e400" fill-opacity="1" filter="url(#sb0_9)"/>
</svg>
<svg x="1179.50" y="243.20" width="84.00" height="139.20" viewBox="0 0 84 139" preserveAspectRatio="none">
<rect width="84" height="139" fill="#000046"/>
<g transform="translate(0,0)">
<path d="M33,20 C34,13 40,10 46,11 C52,12 56,17 56,24 L57,30 C62,33 67,36 71,42 C69,46 67,48 65,50 C67,60 70,74 70,88 C70,100 67,110 62,116 C56,122 48,126 38,126 C28,125 20,120 15,110 C10,100 9,88 10,76 C11,64 14,56 18,50 C20,46 22,42 22,38 C20,34 20,30 22,28 C25,26 29,25 33,24 Z" fill="url(#mbody)" filter="url(#tblur)"/>
<ellipse cx="41" cy="66" rx="24" ry="26" fill="url(#mglow)"/>
<path d="M60,120 Q70,124 82,126" stroke="#0a48a8" stroke-width="3" fill="none" filter="url(#sb1_5)" opacity="0.35"/>
</g>
</svg>
<svg x="1265.70" y="243.20" width="84.20" height="139.20" viewBox="0 0 84 139" preserveAspectRatio="none">
<rect width="84" height="139" fill="#000046"/>
<g transform="translate(1,0)">
<path d="M33,20 C34,13 40,10 46,11 C52,12 56,17 56,24 L57,30 C62,33 67,36 71,42 C69,46 67,48 65,50 C67,60 70,74 70,88 C70,100 67,110 62,116 C56,122 48,126 38,126 C28,125 20,120 15,110 C10,100 9,88 10,76 C11,64 14,56 18,50 C20,46 22,42 22,38 C20,34 20,30 22,28 C25,26 29,25 33,24 Z" fill="url(#mbody)" filter="url(#tblur)"/>
<ellipse cx="41" cy="66" rx="24" ry="26" fill="url(#mglow)"/>
<path d="M60,120 Q70,124 82,126" stroke="#0a48a8" stroke-width="3" fill="none" filter="url(#sb1_5)" opacity="0.35"/>
</g>
<ellipse cx="38" cy="70.5" rx="10" ry="8" fill="#10a0c8" fill-opacity="0.6" filter="url(#sb2_2)"/>
<ellipse cx="38" cy="70.5" rx="6.5" ry="5" fill="#40b040" fill-opacity="1" filter="url(#sb1_2)"/>
<ellipse cx="38" cy="70.5" rx="4" ry="3" fill="#c8dc00" fill-opacity="1" filter="url(#sb0_9)"/>
</svg>
<svg x="1352.30" y="243.20" width="83.80" height="139.20" viewBox="0 0 84 139" preserveAspectRatio="none">
<rect width="84" height="139" fill="#000046"/>
<g transform="translate(1,0)">
<path d="M33,20 C34,13 40,10 46,11 C52,12 56,17 56,24 L57,30 C62,33 67,36 71,42 C69,46 67,48 65,50 C67,60 70,74 70,88 C70,100 67,110 62,116 C56,122 48,126 38,126 C28,125 20,120 15,110 C10,100 9,88 10,76 C11,64 14,56 18,50 C20,46 22,42 22,38 C20,34 20,30 22,28 C25,26 29,25 33,24 Z" fill="url(#mbody)" filter="url(#tblur)"/>
<ellipse cx="41" cy="66" rx="24" ry="26" fill="url(#mglow)"/>
<path d="M60,120 Q70,124 82,126" stroke="#0a48a8" stroke-width="3" fill="none" filter="url(#sb1_5)" opacity="0.35"/>
</g>
<ellipse cx="37.5" cy="70.5" rx="10" ry="8" fill="#10a0c8" fill-opacity="0.6" filter="url(#sb2_2)"/>
<ellipse cx="37.5" cy="70.5" rx="6.5" ry="5" fill="#40b040" fill-opacity="1" filter="url(#sb1_2)"/>
<ellipse cx="37.5" cy="70.5" rx="4" ry="3" fill="#c8dc00" fill-opacity="1" filter="url(#sb0_9)"/>
</svg>
<svg x="916.60" y="387.70" width="83.60" height="139.10" viewBox="0 0 84 139" preserveAspectRatio="none">
<rect width="84" height="139" fill="#000046"/>
<g transform="translate(0,0)">
<path d="M28,20 C32,14 37,12 42,12 C48,12 54,15 56,21 C58,26 58,30 59,34 C64,40 70,44 76,48 C72,51 69,53 67,55 C70,64 72,74 73,86 C74,98 72,110 66,118 C58,125 48,126 40,125 C30,124 22,120 16,112 C10,104 6,94 5,84 C4,74 6,64 9,56 C11,50 13,46 16,40 C18,34 22,28 28,20 Z" fill="url(#mbody)" filter="url(#tblur)"/>
<ellipse cx="41" cy="66" rx="24" ry="26" fill="url(#mglow)"/>
<path d="M60,120 Q70,124 82,126" stroke="#0a48a8" stroke-width="3" fill="none" filter="url(#sb1_5)" opacity="0.35"/>
</g>
</svg>
<svg x="1002.80" y="387.70" width="83.40" height="139.10" viewBox="0 0 84 139" preserveAspectRatio="none">
<rect width="84" height="139" fill="#000046"/>
<g transform="translate(1,0)">
<path d="M28,20 C32,14 37,12 42,12 C48,12 54,15 56,21 C58,26 58,30 59,34 C64,40 70,44 76,48 C72,51 69,53 67,55 C70,64 72,74 73,86 C74,98 72,110 66,118 C58,125 48,126 40,125 C30,124 22,120 16,112 C10,104 6,94 5,84 C4,74 6,64 9,56 C11,50 13,46 16,40 C18,34 22,28 28,20 Z" fill="url(#mbody)" filter="url(#tblur)"/>
<ellipse cx="41" cy="66" rx="24" ry="26" fill="url(#mglow)"/>
<path d="M60,120 Q70,124 82,126" stroke="#0a48a8" stroke-width="3" fill="none" filter="url(#sb1_5)" opacity="0.35"/>
</g>
<ellipse cx="45" cy="68" rx="12" ry="8" fill="#10a0c8" fill-opacity="0.6" filter="url(#sb2_2)"/>
<ellipse cx="45" cy="68" rx="8.5" ry="5.5" fill="#50b838" fill-opacity="1" filter="url(#sb1_3)"/>
<ellipse cx="45" cy="68" rx="6" ry="3.6" fill="#d8e000" fill-opacity="1" filter="url(#sb0_9)"/>
</svg>
<svg x="1089.00" y="387.70" width="83.80" height="139.10" viewBox="0 0 84 139" preserveAspectRatio="none">
<rect width="84" height="139" fill="#000046"/>
<g transform="translate(1,1)">
<path d="M28,20 C32,14 37,12 42,12 C48,12 54,15 56,21 C58,26 58,30 59,34 C64,40 70,44 76,48 C72,51 69,53 67,55 C70,64 72,74 73,86 C74,98 72,110 66,118 C58,125 48,126 40,125 C30,124 22,120 16,112 C10,104 6,94 5,84 C4,74 6,64 9,56 C11,50 13,46 16,40 C18,34 22,28 28,20 Z" fill="url(#mbody)" filter="url(#tblur)"/>
<ellipse cx="41" cy="66" rx="24" ry="26" fill="url(#mglow)"/>
<path d="M60,120 Q70,124 82,126" stroke="#0a48a8" stroke-width="3" fill="none" filter="url(#sb1_5)" opacity="0.35"/>
</g>
<ellipse cx="46" cy="71" rx="12" ry="8.5" fill="#10a0c8" fill-opacity="0.6" filter="url(#sb2_2)"/>
<ellipse cx="46" cy="71" rx="9" ry="6" fill="#50b838" fill-opacity="1" filter="url(#sb1_3)"/>
<ellipse cx="46" cy="71" rx="6.5" ry="4" fill="#f0e000" fill-opacity="1" filter="url(#sb0_9)"/>
<ellipse cx="46" cy="71" rx="3.5" ry="2.5" fill="#ffb000" fill-opacity="1" filter="url(#sb0_8)"/>
</svg>
<svg x="1179.50" y="387.70" width="84.00" height="139.10" viewBox="0 0 84 139" preserveAspectRatio="none">
<rect width="84" height="139" fill="#000046"/>
<g transform="translate(0,0)">
<path d="M33,20 C34,13 40,10 46,11 C52,12 56,17 56,24 L57,30 C62,33 67,36 71,42 C69,46 67,48 65,50 C67,60 70,74 70,88 C70,100 67,110 62,116 C56,122 48,126 38,126 C28,125 20,120 15,110 C10,100 9,88 10,76 C11,64 14,56 18,50 C20,46 22,42 22,38 C20,34 20,30 22,28 C25,26 29,25 33,24 Z" fill="url(#mbody)" filter="url(#tblur)"/>
<ellipse cx="41" cy="66" rx="24" ry="26" fill="url(#mglow)"/>
<path d="M60,120 Q70,124 82,126" stroke="#0a48a8" stroke-width="3" fill="none" filter="url(#sb1_5)" opacity="0.35"/>
</g>
</svg>
<svg x="1265.70" y="387.70" width="84.20" height="139.10" viewBox="0 0 84 139" preserveAspectRatio="none">
<rect width="84" height="139" fill="#000046"/>
<g transform="translate(1,0)">
<path d="M33,20 C34,13 40,10 46,11 C52,12 56,17 56,24 L57,30 C62,33 67,36 71,42 C69,46 67,48 65,50 C67,60 70,74 70,88 C70,100 67,110 62,116 C56,122 48,126 38,126 C28,125 20,120 15,110 C10,100 9,88 10,76 C11,64 14,56 18,50 C20,46 22,42 22,38 C20,34 20,30 22,28 C25,26 29,25 33,24 Z" fill="url(#mbody)" filter="url(#tblur)"/>
<ellipse cx="41" cy="66" rx="24" ry="26" fill="url(#mglow)"/>
<path d="M60,120 Q70,124 82,126" stroke="#0a48a8" stroke-width="3" fill="none" filter="url(#sb1_5)" opacity="0.35"/>
</g>
<ellipse cx="42.5" cy="68.7" rx="12" ry="12" fill="#10a8c0" fill-opacity="0.6" filter="url(#sb2_2)"/>
<ellipse cx="42.5" cy="68.7" rx="9" ry="9" fill="#60c030" fill-opacity="1" filter="url(#sb1_2)"/>
<ellipse cx="42.5" cy="68.7" rx="7" ry="7" fill="#f0e000" fill-opacity="1" filter="url(#sb0_9)"/>
<ellipse cx="42.5" cy="68.7" rx="4.8" ry="4.8" fill="#ff9000" fill-opacity="1" filter="url(#sb0_8)"/>
<ellipse cx="42.5" cy="68.7" rx="3.2" ry="3.2" fill="#ff2020" fill-opacity="1" filter="url(#sb0_6)"/>
</svg>
<svg x="1352.30" y="387.70" width="83.80" height="139.10" viewBox="0 0 84 139" preserveAspectRatio="none">
<rect width="84" height="139" fill="#000046"/>
<g transform="translate(1,1)">
<path d="M33,20 C34,13 40,10 46,11 C52,12 56,17 56,24 L57,30 C62,33 67,36 71,42 C69,46 67,48 65,50 C67,60 70,74 70,88 C70,100 67,110 62,116 C56,122 48,126 38,126 C28,125 20,120 15,110 C10,100 9,88 10,76 C11,64 14,56 18,50 C20,46 22,42 22,38 C20,34 20,30 22,28 C25,26 29,25 33,24 Z" fill="url(#mbody)" filter="url(#tblur)"/>
<ellipse cx="41" cy="66" rx="24" ry="26" fill="url(#mglow)"/>
<path d="M60,120 Q70,124 82,126" stroke="#0a48a8" stroke-width="3" fill="none" filter="url(#sb1_5)" opacity="0.35"/>
</g>
<ellipse cx="41.7" cy="70.3" rx="12" ry="12" fill="#10a8c0" fill-opacity="0.6" filter="url(#sb2_2)"/>
<ellipse cx="41.7" cy="70.3" rx="9" ry="9" fill="#60c030" fill-opacity="1" filter="url(#sb1_2)"/>
<ellipse cx="41.7" cy="70.3" rx="7" ry="7" fill="#f0e000" fill-opacity="1" filter="url(#sb0_9)"/>
<ellipse cx="41.7" cy="70.3" rx="4.8" ry="4.8" fill="#ff8000" fill-opacity="1" filter="url(#sb0_8)"/>
<ellipse cx="41.7" cy="70.3" rx="3.4" ry="3.4" fill="#ff4040" fill-opacity="1" filter="url(#sb0_6)"/>
<ellipse cx="41.7" cy="70.3" rx="1.8" ry="1.8" fill="#ffa0c0" fill-opacity="1" filter="url(#sb0_5)"/>
</svg>
<text x="920.84" y="548.00" font-size="25.80" fill="#000">Min</text>
<text x="1378.16" y="548.00" font-size="25.44" fill="#000">Max</text>
<rect x="972.5" y="536.8" width="393.7" height="10.4" fill="url(#cbar)" stroke="#000" stroke-width="2"/>
<text x="1518.88" y="31.20" font-size="43.09" font-weight="bold" fill="#000">c</text>
<text x="1643.78" y="41.00" font-size="30.25" fill="#000">HT-29</text>
<text x="1829.32" y="41.00" font-size="29.79" fill="#000">HT-29-TRPV2</text>
<rect x="1573.2" y="52.1" width="228.9" height="92.8" fill="none" stroke="#000" stroke-width="2"/>
<rect x="1810.0" y="52.1" width="228.0" height="92.8" fill="none" stroke="#000" stroke-width="2"/>
<line x1="1579.30" y1="69.50" x2="1638.80" y2="69.50" stroke="#000" stroke-width="2"/>
<polygon points="1607.90,62.90 1614.20,74.90 1601.60,74.90" fill="#000"/>
<text x="1645.69" y="77.50" font-size="22.60" fill="#000">PBS</text>
<line x1="1579.30" y1="98.10" x2="1638.80" y2="98.10" stroke="#4472C4" stroke-width="2"/>
<rect x="1601.90" y="92.10" width="12.00" height="12.00" fill="#4472C4"/>
<text x="1645.69" y="107.00" font-size="22.60" fill="#000">PCNH</text>
<line x1="1579.30" y1="129.00" x2="1638.80" y2="129.00" stroke="#FFC000" stroke-width="2"/>
<circle cx="1607.90" cy="129.00" r="6.00" fill="#FFC000"/>
<text x="1647.05" y="137.50" font-size="22.60" fill="#000">TRPV2-PCNH</text>
<line x1="1816.40" y1="69.50" x2="1873.20" y2="69.50" stroke="#7f7f7f" stroke-width="2"/>
<polygon points="1845.00,62.90 1851.30,74.90 1838.70,74.90" fill="#7f7f7f"/>
<text x="1880.99" y="77.50" font-size="22.60" fill="#000">PBS</text>
<line x1="1816.40" y1="98.10" x2="1873.20" y2="98.10" stroke="#ED7D31" stroke-width="2"/>
<rect x="1839.00" y="92.10" width="12.00" height="12.00" fill="#ED7D31"/>
<text x="1880.99" y="107.00" font-size="22.60" fill="#000">PCNH</text>
<line x1="1816.40" y1="129.00" x2="1873.20" y2="129.00" stroke="#C00000" stroke-width="2"/>
<circle cx="1845.00" cy="129.00" r="6.00" fill="#C00000"/>
<text x="1882.35" y="137.50" font-size="22.60" fill="#000">TRPV2-PCNH</text>
<line x1="1617.80" y1="175.00" x2="1617.80" y2="504.30" stroke="#000" stroke-width="2"/>
<line x1="1610.20" y1="494.70" x2="2033.00" y2="494.70" stroke="#000" stroke-width="2"/>
<line x1="1610.20" y1="186.60" x2="1617.80" y2="186.60" stroke="#000" stroke-width="2"/>
<text x="1571.27" y="196.60" font-size="28.80" fill="#000">57</text>
<line x1="1610.20" y1="248.22" x2="1617.80" y2="248.22" stroke="#000" stroke-width="2"/>
<text x="1571.27" y="258.22" font-size="28.80" fill="#000">52</text>
<line x1="1610.20" y1="309.84" x2="1617.80" y2="309.84" stroke="#000" stroke-width="2"/>
<text x="1571.27" y="319.84" font-size="28.80" fill="#000">47</text>
<line x1="1610.20" y1="371.46" x2="1617.80" y2="371.46" stroke="#000" stroke-width="2"/>
<text x="1571.27" y="381.46" font-size="28.80" fill="#000">42</text>
<line x1="1610.20" y1="433.08" x2="1617.80" y2="433.08" stroke="#000" stroke-width="2"/>
<text x="1571.27" y="443.08" font-size="28.80" fill="#000">37</text>
<line x1="1610.20" y1="494.70" x2="1617.80" y2="494.70" stroke="#000" stroke-width="2"/>
<text x="1571.27" y="504.70" font-size="28.80" fill="#000">32</text>
<line x1="1617.80" y1="494.70" x2="1617.80" y2="504.30" stroke="#000" stroke-width="2"/>
<text x="1609.68" y="537.30" font-size="29.00" fill="#000">0</text>
<line x1="1755.80" y1="494.70" x2="1755.80" y2="504.30" stroke="#000" stroke-width="2"/>
<text x="1747.75" y="537.30" font-size="29.00" fill="#000">2</text>
<line x1="1893.80" y1="494.70" x2="1893.80" y2="504.30" stroke="#000" stroke-width="2"/>
<text x="1885.90" y="537.30" font-size="29.00" fill="#000">4</text>
<line x1="2031.80" y1="494.70" x2="2031.80" y2="504.30" stroke="#000" stroke-width="2"/>
<text x="2023.61" y="537.30" font-size="29.00" fill="#000">6</text>
<text x="1690.26" y="581.00" font-size="29.30" fill="#000">Irradiation time (min)</text>
<text transform="translate(1546.10,453.59) rotate(-90)" x="0" y="0" font-size="29.59" fill="#000">Temperature (°C)</text>
<line x1="1617.80" y1="466.35" x2="1617.80" y2="478.68" stroke="#444" stroke-width="2"/>
<line x1="1611.80" y1="466.35" x2="1623.80" y2="466.35" stroke="#444" stroke-width="2"/>
<line x1="1611.80" y1="478.68" x2="1623.80" y2="478.68" stroke="#444" stroke-width="2"/>
<line x1="1659.20" y1="424.45" x2="1659.20" y2="446.64" stroke="#444" stroke-width="2"/>
<line x1="1653.20" y1="424.45" x2="1665.20" y2="424.45" stroke="#444" stroke-width="2"/>
<line x1="1653.20" y1="446.64" x2="1665.20" y2="446.64" stroke="#444" stroke-width="2"/>
<line x1="1700.60" y1="407.20" x2="1700.60" y2="434.31" stroke="#444" stroke-width="2"/>
<line x1="1694.60" y1="407.20" x2="1706.60" y2="407.20" stroke="#444" stroke-width="2"/>
<line x1="1694.60" y1="434.31" x2="1706.60" y2="434.31" stroke="#444" stroke-width="2"/>
<line x1="1755.80" y1="393.03" x2="1755.80" y2="420.14" stroke="#444" stroke-width="2"/>
<line x1="1749.80" y1="393.03" x2="1761.80" y2="393.03" stroke="#444" stroke-width="2"/>
<line x1="1749.80" y1="420.14" x2="1761.80" y2="420.14" stroke="#444" stroke-width="2"/>
<line x1="1859.30" y1="383.78" x2="1859.30" y2="408.43" stroke="#444" stroke-width="2"/>
<line x1="1853.30" y1="383.78" x2="1865.30" y2="383.78" stroke="#444" stroke-width="2"/>
<line x1="1853.30" y1="408.43" x2="1865.30" y2="408.43" stroke="#444" stroke-width="2"/>
<line x1="1962.80" y1="378.85" x2="1962.80" y2="402.27" stroke="#444" stroke-width="2"/>
<line x1="1956.80" y1="378.85" x2="1968.80" y2="378.85" stroke="#444" stroke-width="2"/>
<line x1="1956.80" y1="402.27" x2="1968.80" y2="402.27" stroke="#444" stroke-width="2"/>
<line x1="1617.80" y1="467.59" x2="1617.80" y2="479.91" stroke="#444" stroke-width="2"/>
<line x1="1611.80" y1="467.59" x2="1623.80" y2="467.59" stroke="#444" stroke-width="2"/>
<line x1="1611.80" y1="479.91" x2="1623.80" y2="479.91" stroke="#444" stroke-width="2"/>
<line x1="1659.20" y1="431.85" x2="1659.20" y2="451.57" stroke="#444" stroke-width="2"/>
<line x1="1653.20" y1="431.85" x2="1665.20" y2="431.85" stroke="#444" stroke-width="2"/>
<line x1="1653.20" y1="451.57" x2="1665.20" y2="451.57" stroke="#444" stroke-width="2"/>
<line x1="1700.60" y1="415.83" x2="1700.60" y2="438.01" stroke="#444" stroke-width="2"/>
<line x1="1694.60" y1="415.83" x2="1706.60" y2="415.83" stroke="#444" stroke-width="2"/>
<line x1="1694.60" y1="438.01" x2="1706.60" y2="438.01" stroke="#444" stroke-width="2"/>
<line x1="1755.80" y1="404.73" x2="1755.80" y2="424.45" stroke="#444" stroke-width="2"/>
<line x1="1749.80" y1="404.73" x2="1761.80" y2="404.73" stroke="#444" stroke-width="2"/>
<line x1="1749.80" y1="424.45" x2="1761.80" y2="424.45" stroke="#444" stroke-width="2"/>
<line x1="1859.30" y1="394.88" x2="1859.30" y2="412.13" stroke="#444" stroke-width="2"/>
<line x1="1853.30" y1="394.88" x2="1865.30" y2="394.88" stroke="#444" stroke-width="2"/>
<line x1="1853.30" y1="412.13" x2="1865.30" y2="412.13" stroke="#444" stroke-width="2"/>
<line x1="1962.80" y1="389.33" x2="1962.80" y2="409.05" stroke="#444" stroke-width="2"/>
<line x1="1956.80" y1="389.33" x2="1968.80" y2="389.33" stroke="#444" stroke-width="2"/>
<line x1="1956.80" y1="409.05" x2="1968.80" y2="409.05" stroke="#444" stroke-width="2"/>
<line x1="1617.80" y1="460.19" x2="1617.80" y2="472.52" stroke="#444" stroke-width="2"/>
<line x1="1611.80" y1="460.19" x2="1623.80" y2="460.19" stroke="#444" stroke-width="2"/>
<line x1="1611.80" y1="472.52" x2="1623.80" y2="472.52" stroke="#444" stroke-width="2"/>
<line x1="1659.20" y1="385.02" x2="1659.20" y2="412.13" stroke="#444" stroke-width="2"/>
<line x1="1653.20" y1="385.02" x2="1665.20" y2="385.02" stroke="#444" stroke-width="2"/>
<line x1="1653.20" y1="412.13" x2="1665.20" y2="412.13" stroke="#444" stroke-width="2"/>
<line x1="1700.60" y1="350.51" x2="1700.60" y2="385.02" stroke="#444" stroke-width="2"/>
<line x1="1694.60" y1="350.51" x2="1706.60" y2="350.51" stroke="#444" stroke-width="2"/>
<line x1="1694.60" y1="385.02" x2="1706.60" y2="385.02" stroke="#444" stroke-width="2"/>
<line x1="1755.80" y1="325.86" x2="1755.80" y2="362.83" stroke="#444" stroke-width="2"/>
<line x1="1749.80" y1="325.86" x2="1761.80" y2="325.86" stroke="#444" stroke-width="2"/>
<line x1="1749.80" y1="362.83" x2="1761.80" y2="362.83" stroke="#444" stroke-width="2"/>
<line x1="1859.30" y1="308.61" x2="1859.30" y2="345.58" stroke="#444" stroke-width="2"/>
<line x1="1853.30" y1="308.61" x2="1865.30" y2="308.61" stroke="#444" stroke-width="2"/>
<line x1="1853.30" y1="345.58" x2="1865.30" y2="345.58" stroke="#444" stroke-width="2"/>
<line x1="1962.80" y1="297.52" x2="1962.80" y2="339.42" stroke="#444" stroke-width="2"/>
<line x1="1956.80" y1="297.52" x2="1968.80" y2="297.52" stroke="#444" stroke-width="2"/>
<line x1="1956.80" y1="339.42" x2="1968.80" y2="339.42" stroke="#444" stroke-width="2"/>
<line x1="1617.80" y1="456.50" x2="1617.80" y2="468.82" stroke="#444" stroke-width="2"/>
<line x1="1611.80" y1="456.50" x2="1623.80" y2="456.50" stroke="#444" stroke-width="2"/>
<line x1="1611.80" y1="468.82" x2="1623.80" y2="468.82" stroke="#444" stroke-width="2"/>
<line x1="1659.20" y1="391.18" x2="1659.20" y2="420.76" stroke="#444" stroke-width="2"/>
<line x1="1653.20" y1="391.18" x2="1665.20" y2="391.18" stroke="#444" stroke-width="2"/>
<line x1="1653.20" y1="420.76" x2="1665.20" y2="420.76" stroke="#444" stroke-width="2"/>
<line x1="1700.60" y1="356.67" x2="1700.60" y2="393.64" stroke="#444" stroke-width="2"/>
<line x1="1694.60" y1="356.67" x2="1706.60" y2="356.67" stroke="#444" stroke-width="2"/>
<line x1="1694.60" y1="393.64" x2="1706.60" y2="393.64" stroke="#444" stroke-width="2"/>
<line x1="1755.80" y1="334.49" x2="1755.80" y2="373.92" stroke="#444" stroke-width="2"/>
<line x1="1749.80" y1="334.49" x2="1761.80" y2="334.49" stroke="#444" stroke-width="2"/>
<line x1="1749.80" y1="373.92" x2="1761.80" y2="373.92" stroke="#444" stroke-width="2"/>
<line x1="1859.30" y1="314.77" x2="1859.30" y2="356.67" stroke="#444" stroke-width="2"/>
<line x1="1853.30" y1="314.77" x2="1865.30" y2="314.77" stroke="#444" stroke-width="2"/>
<line x1="1853.30" y1="356.67" x2="1865.30" y2="356.67" stroke="#444" stroke-width="2"/>
<line x1="1962.80" y1="307.38" x2="1962.80" y2="346.81" stroke="#444" stroke-width="2"/>
<line x1="1956.80" y1="307.38" x2="1968.80" y2="307.38" stroke="#444" stroke-width="2"/>
<line x1="1956.80" y1="346.81" x2="1968.80" y2="346.81" stroke="#444" stroke-width="2"/>
<line x1="1617.80" y1="451.57" x2="1617.80" y2="463.89" stroke="#444" stroke-width="2"/>
<line x1="1611.80" y1="451.57" x2="1623.80" y2="451.57" stroke="#444" stroke-width="2"/>
<line x1="1611.80" y1="463.89" x2="1623.80" y2="463.89" stroke="#444" stroke-width="2"/>
<line x1="1659.20" y1="381.32" x2="1659.20" y2="405.97" stroke="#444" stroke-width="2"/>
<line x1="1653.20" y1="381.32" x2="1665.20" y2="381.32" stroke="#444" stroke-width="2"/>
<line x1="1653.20" y1="405.97" x2="1665.20" y2="405.97" stroke="#444" stroke-width="2"/>
<line x1="1700.60" y1="348.04" x2="1700.60" y2="377.62" stroke="#444" stroke-width="2"/>
<line x1="1694.60" y1="348.04" x2="1706.60" y2="348.04" stroke="#444" stroke-width="2"/>
<line x1="1694.60" y1="377.62" x2="1706.60" y2="377.62" stroke="#444" stroke-width="2"/>
<line x1="1755.80" y1="324.63" x2="1755.80" y2="354.21" stroke="#444" stroke-width="2"/>
<line x1="1749.80" y1="324.63" x2="1761.80" y2="324.63" stroke="#444" stroke-width="2"/>
<line x1="1749.80" y1="354.21" x2="1761.80" y2="354.21" stroke="#444" stroke-width="2"/>
<line x1="1859.30" y1="302.45" x2="1859.30" y2="334.49" stroke="#444" stroke-width="2"/>
<line x1="1853.30" y1="302.45" x2="1865.30" y2="302.45" stroke="#444" stroke-width="2"/>
<line x1="1853.30" y1="334.49" x2="1865.30" y2="334.49" stroke="#444" stroke-width="2"/>
<line x1="1962.80" y1="291.35" x2="1962.80" y2="328.33" stroke="#444" stroke-width="2"/>
<line x1="1956.80" y1="291.35" x2="1968.80" y2="291.35" stroke="#444" stroke-width="2"/>
<line x1="1956.80" y1="328.33" x2="1968.80" y2="328.33" stroke="#444" stroke-width="2"/>
<line x1="1617.80" y1="449.10" x2="1617.80" y2="458.96" stroke="#444" stroke-width="2"/>
<line x1="1611.80" y1="449.10" x2="1623.80" y2="449.10" stroke="#444" stroke-width="2"/>
<line x1="1611.80" y1="458.96" x2="1623.80" y2="458.96" stroke="#444" stroke-width="2"/>
<line x1="1659.20" y1="330.79" x2="1659.20" y2="365.30" stroke="#444" stroke-width="2"/>
<line x1="1653.20" y1="330.79" x2="1665.20" y2="330.79" stroke="#444" stroke-width="2"/>
<line x1="1653.20" y1="365.30" x2="1665.20" y2="365.30" stroke="#444" stroke-width="2"/>
<line x1="1700.60" y1="272.87" x2="1700.60" y2="319.70" stroke="#444" stroke-width="2"/>
<line x1="1694.60" y1="272.87" x2="1706.60" y2="272.87" stroke="#444" stroke-width="2"/>
<line x1="1694.60" y1="319.70" x2="1706.60" y2="319.70" stroke="#444" stroke-width="2"/>
<line x1="1755.80" y1="248.22" x2="1755.80" y2="282.73" stroke="#444" stroke-width="2"/>
<line x1="1749.80" y1="248.22" x2="1761.80" y2="248.22" stroke="#444" stroke-width="2"/>
<line x1="1749.80" y1="282.73" x2="1761.80" y2="282.73" stroke="#444" stroke-width="2"/>
<line x1="1859.30" y1="213.71" x2="1859.30" y2="267.94" stroke="#444" stroke-width="2"/>
<line x1="1853.30" y1="213.71" x2="1865.30" y2="213.71" stroke="#444" stroke-width="2"/>
<line x1="1853.30" y1="267.94" x2="1865.30" y2="267.94" stroke="#444" stroke-width="2"/>
<line x1="1962.80" y1="202.00" x2="1962.80" y2="255.00" stroke="#444" stroke-width="2"/>
<line x1="1956.80" y1="202.00" x2="1968.80" y2="202.00" stroke="#444" stroke-width="2"/>
<line x1="1956.80" y1="255.00" x2="1968.80" y2="255.00" stroke="#444" stroke-width="2"/>
<path d="M1617.80,472.52 C1624.70,466.35 1645.40,444.17 1659.20,435.54 C1673.00,426.92 1684.50,425.58 1700.60,420.76 C1716.70,415.93 1729.35,410.69 1755.80,406.58 C1782.25,402.48 1824.80,398.78 1859.30,396.11 C1893.80,393.44 1945.55,391.49 1962.80,390.56" fill="none" stroke="#000" stroke-width="2"/>
<path d="M1617.80,473.75 C1624.70,468.41 1645.40,449.51 1659.20,441.71 C1673.00,433.90 1684.50,431.44 1700.60,426.92 C1716.70,422.40 1729.35,418.50 1755.80,414.59 C1782.25,410.69 1824.80,406.07 1859.30,403.50 C1893.80,400.93 1945.55,399.91 1962.80,399.19" fill="none" stroke="#7f7f7f" stroke-width="2"/>
<path d="M1617.80,466.35 C1624.70,455.06 1645.40,415.00 1659.20,398.57 C1673.00,382.14 1684.50,376.80 1700.60,367.76 C1716.70,358.73 1729.35,351.13 1755.80,344.35 C1782.25,337.57 1824.80,331.41 1859.30,327.09 C1893.80,322.78 1945.55,319.90 1962.80,318.47" fill="none" stroke="#4472C4" stroke-width="2"/>
<path d="M1617.80,462.66 C1624.70,453.21 1645.40,420.55 1659.20,405.97 C1673.00,391.38 1684.50,383.78 1700.60,375.16 C1716.70,366.53 1729.35,360.78 1755.80,354.21 C1782.25,347.63 1824.80,340.24 1859.30,335.72 C1893.80,331.20 1945.55,328.53 1962.80,327.09" fill="none" stroke="#FFC000" stroke-width="2"/>
<path d="M1617.80,457.73 C1624.70,447.05 1645.40,409.46 1659.20,393.64 C1673.00,377.83 1684.50,371.87 1700.60,362.83 C1716.70,353.80 1729.35,346.81 1755.80,339.42 C1782.25,332.02 1824.80,323.40 1859.30,318.47 C1893.80,313.54 1945.55,311.28 1962.80,309.84" fill="none" stroke="#ED7D31" stroke-width="2"/>
<path d="M1617.80,454.03 C1624.70,436.37 1645.40,374.34 1659.20,348.04 C1673.00,321.75 1684.50,310.05 1700.60,296.28 C1716.70,282.52 1729.35,274.72 1755.80,265.47 C1782.25,256.23 1824.80,246.99 1859.30,240.83 C1893.80,234.66 1945.55,230.56 1962.80,228.50" fill="none" stroke="#C00000" stroke-width="2"/>
<polygon points="1617.80,462.89 1626.99,480.39 1608.61,480.39" fill="#000"/>
<polygon points="1659.20,425.92 1668.39,443.42 1650.01,443.42" fill="#000"/>
<polygon points="1700.60,411.13 1709.79,428.63 1691.41,428.63" fill="#000"/>
<polygon points="1755.80,396.96 1764.99,414.46 1746.61,414.46" fill="#000"/>
<polygon points="1859.30,386.48 1868.49,403.98 1850.11,403.98" fill="#000"/>
<polygon points="1962.80,380.94 1971.99,398.44 1953.61,398.44" fill="#000"/>
<polygon points="1617.80,464.12 1626.99,481.62 1608.61,481.62" fill="#7f7f7f"/>
<polygon points="1659.20,432.08 1668.39,449.58 1650.01,449.58" fill="#7f7f7f"/>
<polygon points="1700.60,417.29 1709.79,434.79 1691.41,434.79" fill="#7f7f7f"/>
<polygon points="1755.80,404.97 1764.99,422.47 1746.61,422.47" fill="#7f7f7f"/>
<polygon points="1859.30,393.88 1868.49,411.38 1850.11,411.38" fill="#7f7f7f"/>
<polygon points="1962.80,389.56 1971.99,407.06 1953.61,407.06" fill="#7f7f7f"/>
<rect x="1610.05" y="458.60" width="15.50" height="15.50" fill="#4472C4"/>
<rect x="1651.45" y="390.82" width="15.50" height="15.50" fill="#4472C4"/>
<rect x="1692.85" y="360.01" width="15.50" height="15.50" fill="#4472C4"/>
<rect x="1748.05" y="336.60" width="15.50" height="15.50" fill="#4472C4"/>
<rect x="1851.55" y="319.34" width="15.50" height="15.50" fill="#4472C4"/>
<rect x="1955.05" y="310.72" width="15.50" height="15.50" fill="#4472C4"/>
<circle cx="1617.80" cy="462.66" r="7.75" fill="#FFC000"/>
<circle cx="1659.20" cy="405.97" r="7.75" fill="#FFC000"/>
<circle cx="1700.60" cy="375.16" r="7.75" fill="#FFC000"/>
<circle cx="1755.80" cy="354.21" r="7.75" fill="#FFC000"/>
<circle cx="1859.30" cy="335.72" r="7.75" fill="#FFC000"/>
<circle cx="1962.80" cy="327.09" r="7.75" fill="#FFC000"/>
<rect x="1610.05" y="449.98" width="15.50" height="15.50" fill="#ED7D31"/>
<rect x="1651.45" y="385.89" width="15.50" height="15.50" fill="#ED7D31"/>
<rect x="1692.85" y="355.08" width="15.50" height="15.50" fill="#ED7D31"/>
<rect x="1748.05" y="331.67" width="15.50" height="15.50" fill="#ED7D31"/>
<rect x="1851.55" y="310.72" width="15.50" height="15.50" fill="#ED7D31"/>
<rect x="1955.05" y="302.09" width="15.50" height="15.50" fill="#ED7D31"/>
<circle cx="1617.80" cy="454.03" r="7.75" fill="#C00000"/>
<circle cx="1659.20" cy="348.04" r="7.75" fill="#C00000"/>
<circle cx="1700.60" cy="296.28" r="7.75" fill="#C00000"/>
<circle cx="1755.80" cy="265.47" r="7.75" fill="#C00000"/>
<circle cx="1859.30" cy="240.83" r="7.75" fill="#C00000"/>
<circle cx="1962.80" cy="228.50" r="7.75" fill="#C00000"/>
<text x="10.13" y="667.50" font-size="44.36" font-weight="bold" fill="#000">d</text>
<text x="350.96" y="680.70" font-size="34.47" font-weight="bold" fill="#000">HT-29</text>
<line x1="161.70" y1="721.60" x2="161.70" y2="1201.30" stroke="#000" stroke-width="2"/>
<line x1="152.20" y1="1200.30" x2="710.50" y2="1200.30" stroke="#000" stroke-width="2"/>
<line x1="152.60" y1="1200.30" x2="161.70" y2="1200.30" stroke="#000" stroke-width="2"/>
<text x="125.03" y="1210.60" font-size="28.60" fill="#000">0</text>
<line x1="152.60" y1="1104.56" x2="161.70" y2="1104.56" stroke="#000" stroke-width="2"/>
<text x="93.28" y="1114.86" font-size="28.60" fill="#000">200</text>
<line x1="152.60" y1="1008.82" x2="161.70" y2="1008.82" stroke="#000" stroke-width="2"/>
<text x="93.28" y="1019.12" font-size="28.60" fill="#000">400</text>
<line x1="152.60" y1="913.08" x2="161.70" y2="913.08" stroke="#000" stroke-width="2"/>
<text x="93.28" y="923.38" font-size="28.60" fill="#000">600</text>
<line x1="152.60" y1="817.34" x2="161.70" y2="817.34" stroke="#000" stroke-width="2"/>
<text x="93.28" y="827.64" font-size="28.60" fill="#000">800</text>
<line x1="152.60" y1="721.60" x2="161.70" y2="721.60" stroke="#000" stroke-width="2"/>
<text x="77.27" y="731.90" font-size="28.60" fill="#000">1000</text>
<line x1="188.30" y1="1200.30" x2="188.30" y2="1205.50" stroke="#000" stroke-width="2"/>
<text x="180.18" y="1238.90" font-size="29.00" fill="#000">0</text>
<line x1="243.50" y1="1200.30" x2="243.50" y2="1205.50" stroke="#000" stroke-width="2"/>
<text x="235.45" y="1238.90" font-size="29.00" fill="#000">2</text>
<line x1="298.80" y1="1200.30" x2="298.80" y2="1205.50" stroke="#000" stroke-width="2"/>
<text x="290.75" y="1238.90" font-size="29.00" fill="#000">5</text>
<line x1="354.30" y1="1200.30" x2="354.30" y2="1205.50" stroke="#000" stroke-width="2"/>
<text x="346.25" y="1238.90" font-size="29.00" fill="#000">7</text>
<line x1="407.10" y1="1200.30" x2="407.10" y2="1205.50" stroke="#000" stroke-width="2"/>
<text x="399.05" y="1238.90" font-size="29.00" fill="#000">9</text>
<line x1="462.20" y1="1200.30" x2="462.20" y2="1205.50" stroke="#000" stroke-width="2"/>
<text x="445.74" y="1238.90" font-size="29.00" fill="#000">12</text>
<line x1="517.50" y1="1200.30" x2="517.50" y2="1205.50" stroke="#000" stroke-width="2"/>
<text x="500.75" y="1238.90" font-size="29.00" fill="#000">14</text>
<line x1="573.00" y1="1200.30" x2="573.00" y2="1205.50" stroke="#000" stroke-width="2"/>
<text x="556.40" y="1238.90" font-size="29.00" fill="#000">16</text>
<line x1="628.50" y1="1200.30" x2="628.50" y2="1205.50" stroke="#000" stroke-width="2"/>
<text x="611.97" y="1238.90" font-size="29.00" fill="#000">19</text>
<line x1="681.50" y1="1200.30" x2="681.50" y2="1205.50" stroke="#000" stroke-width="2"/>
<text x="665.33" y="1238.90" font-size="29.00" fill="#000">21</text>
<line x1="710.50" y1="1200.30" x2="710.50" y2="1205.50" stroke="#000" stroke-width="2"/>
<line x1="188.30" y1="1127.00" x2="188.30" y2="1170.20" stroke="#595959" stroke-width="2"/>
<line x1="181.10" y1="1127.00" x2="195.50" y2="1127.00" stroke="#595959" stroke-width="2"/>
<line x1="181.10" y1="1170.20" x2="195.50" y2="1170.20" stroke="#595959" stroke-width="2"/>
<line x1="243.50" y1="1116.09" x2="243.50" y2="1161.97" stroke="#595959" stroke-width="2"/>
<line x1="236.30" y1="1116.09" x2="250.70" y2="1116.09" stroke="#595959" stroke-width="2"/>
<line x1="236.30" y1="1161.97" x2="250.70" y2="1161.97" stroke="#595959" stroke-width="2"/>
<line x1="298.80" y1="1090.44" x2="298.80" y2="1142.62" stroke="#595959" stroke-width="2"/>
<line x1="291.60" y1="1090.44" x2="306.00" y2="1090.44" stroke="#595959" stroke-width="2"/>
<line x1="291.60" y1="1142.62" x2="306.00" y2="1142.62" stroke="#595959" stroke-width="2"/>
<line x1="354.30" y1="1047.87" x2="354.30" y2="1110.51" stroke="#595959" stroke-width="2"/>
<line x1="347.10" y1="1047.87" x2="361.50" y2="1047.87" stroke="#595959" stroke-width="2"/>
<line x1="347.10" y1="1110.51" x2="361.50" y2="1110.51" stroke="#595959" stroke-width="2"/>
<line x1="407.10" y1="1012.40" x2="407.10" y2="1083.75" stroke="#595959" stroke-width="2"/>
<line x1="399.90" y1="1012.40" x2="414.30" y2="1012.40" stroke="#595959" stroke-width="2"/>
<line x1="399.90" y1="1083.75" x2="414.30" y2="1083.75" stroke="#595959" stroke-width="2"/>
<line x1="462.20" y1="982.93" x2="462.20" y2="1061.52" stroke="#595959" stroke-width="2"/>
<line x1="455.00" y1="982.93" x2="469.40" y2="982.93" stroke="#595959" stroke-width="2"/>
<line x1="455.00" y1="1061.52" x2="469.40" y2="1061.52" stroke="#595959" stroke-width="2"/>
<line x1="517.50" y1="951.28" x2="517.50" y2="1037.64" stroke="#595959" stroke-width="2"/>
<line x1="510.30" y1="951.28" x2="524.70" y2="951.28" stroke="#595959" stroke-width="2"/>
<line x1="510.30" y1="1037.64" x2="524.70" y2="1037.64" stroke="#595959" stroke-width="2"/>
<line x1="573.00" y1="939.82" x2="573.00" y2="1028.99" stroke="#595959" stroke-width="2"/>
<line x1="565.80" y1="939.82" x2="580.20" y2="939.82" stroke="#595959" stroke-width="2"/>
<line x1="565.80" y1="1028.99" x2="580.20" y2="1028.99" stroke="#595959" stroke-width="2"/>
<line x1="628.50" y1="902.17" x2="628.50" y2="1000.59" stroke="#595959" stroke-width="2"/>
<line x1="621.30" y1="902.17" x2="635.70" y2="902.17" stroke="#595959" stroke-width="2"/>
<line x1="621.30" y1="1000.59" x2="635.70" y2="1000.59" stroke="#595959" stroke-width="2"/>
<line x1="681.50" y1="867.24" x2="681.50" y2="974.24" stroke="#595959" stroke-width="2"/>
<line x1="674.30" y1="867.24" x2="688.70" y2="867.24" stroke="#595959" stroke-width="2"/>
<line x1="674.30" y1="974.24" x2="688.70" y2="974.24" stroke="#595959" stroke-width="2"/>
<line x1="188.30" y1="1130.60" x2="188.30" y2="1169.47" stroke="#595959" stroke-width="2"/>
<line x1="181.10" y1="1130.60" x2="195.50" y2="1130.60" stroke="#595959" stroke-width="2"/>
<line x1="181.10" y1="1169.47" x2="195.50" y2="1169.47" stroke="#595959" stroke-width="2"/>
<line x1="243.50" y1="1115.05" x2="243.50" y2="1157.26" stroke="#595959" stroke-width="2"/>
<line x1="236.30" y1="1115.05" x2="250.70" y2="1115.05" stroke="#595959" stroke-width="2"/>
<line x1="236.30" y1="1157.26" x2="250.70" y2="1157.26" stroke="#595959" stroke-width="2"/>
<line x1="298.80" y1="1091.46" x2="298.80" y2="1138.72" stroke="#595959" stroke-width="2"/>
<line x1="291.60" y1="1091.46" x2="306.00" y2="1091.46" stroke="#595959" stroke-width="2"/>
<line x1="291.60" y1="1138.72" x2="306.00" y2="1138.72" stroke="#595959" stroke-width="2"/>
<line x1="354.30" y1="1039.99" x2="354.30" y2="1098.28" stroke="#595959" stroke-width="2"/>
<line x1="347.10" y1="1039.99" x2="361.50" y2="1039.99" stroke="#595959" stroke-width="2"/>
<line x1="347.10" y1="1098.28" x2="361.50" y2="1098.28" stroke="#595959" stroke-width="2"/>
<line x1="407.10" y1="1014.26" x2="407.10" y2="1078.06" stroke="#595959" stroke-width="2"/>
<line x1="399.90" y1="1014.26" x2="414.30" y2="1014.26" stroke="#595959" stroke-width="2"/>
<line x1="399.90" y1="1078.06" x2="414.30" y2="1078.06" stroke="#595959" stroke-width="2"/>
<line x1="462.20" y1="981.55" x2="462.20" y2="1052.36" stroke="#595959" stroke-width="2"/>
<line x1="455.00" y1="981.55" x2="469.40" y2="981.55" stroke="#595959" stroke-width="2"/>
<line x1="455.00" y1="1052.36" x2="469.40" y2="1052.36" stroke="#595959" stroke-width="2"/>
<line x1="517.50" y1="938.13" x2="517.50" y2="1018.24" stroke="#595959" stroke-width="2"/>
<line x1="510.30" y1="938.13" x2="524.70" y2="938.13" stroke="#595959" stroke-width="2"/>
<line x1="510.30" y1="1018.24" x2="524.70" y2="1018.24" stroke="#595959" stroke-width="2"/>
<line x1="573.00" y1="904.88" x2="573.00" y2="992.12" stroke="#595959" stroke-width="2"/>
<line x1="565.80" y1="904.88" x2="580.20" y2="904.88" stroke="#595959" stroke-width="2"/>
<line x1="565.80" y1="992.12" x2="580.20" y2="992.12" stroke="#595959" stroke-width="2"/>
<line x1="628.50" y1="873.79" x2="628.50" y2="967.69" stroke="#595959" stroke-width="2"/>
<line x1="621.30" y1="873.79" x2="635.70" y2="873.79" stroke="#595959" stroke-width="2"/>
<line x1="621.30" y1="967.69" x2="635.70" y2="967.69" stroke="#595959" stroke-width="2"/>
<line x1="681.50" y1="818.57" x2="681.50" y2="924.30" stroke="#595959" stroke-width="2"/>
<line x1="674.30" y1="818.57" x2="688.70" y2="818.57" stroke="#595959" stroke-width="2"/>
<line x1="674.30" y1="924.30" x2="688.70" y2="924.30" stroke="#595959" stroke-width="2"/>
<line x1="188.30" y1="1133.40" x2="188.30" y2="1173.38" stroke="#595959" stroke-width="2"/>
<line x1="181.10" y1="1133.40" x2="195.50" y2="1133.40" stroke="#595959" stroke-width="2"/>
<line x1="181.10" y1="1173.38" x2="195.50" y2="1173.38" stroke="#595959" stroke-width="2"/>
<line x1="243.50" y1="1113.02" x2="243.50" y2="1157.37" stroke="#595959" stroke-width="2"/>
<line x1="236.30" y1="1113.02" x2="250.70" y2="1113.02" stroke="#595959" stroke-width="2"/>
<line x1="236.30" y1="1157.37" x2="250.70" y2="1157.37" stroke="#595959" stroke-width="2"/>
<line x1="298.80" y1="1076.03" x2="298.80" y2="1128.30" stroke="#595959" stroke-width="2"/>
<line x1="291.60" y1="1076.03" x2="306.00" y2="1076.03" stroke="#595959" stroke-width="2"/>
<line x1="291.60" y1="1128.30" x2="306.00" y2="1128.30" stroke="#595959" stroke-width="2"/>
<line x1="354.30" y1="1051.90" x2="354.30" y2="1109.35" stroke="#595959" stroke-width="2"/>
<line x1="347.10" y1="1051.90" x2="361.50" y2="1051.90" stroke="#595959" stroke-width="2"/>
<line x1="347.10" y1="1109.35" x2="361.50" y2="1109.35" stroke="#595959" stroke-width="2"/>
<line x1="407.10" y1="1011.69" x2="407.10" y2="1077.75" stroke="#595959" stroke-width="2"/>
<line x1="399.90" y1="1011.69" x2="414.30" y2="1011.69" stroke="#595959" stroke-width="2"/>
<line x1="399.90" y1="1077.75" x2="414.30" y2="1077.75" stroke="#595959" stroke-width="2"/>
<line x1="462.20" y1="968.26" x2="462.20" y2="1043.63" stroke="#595959" stroke-width="2"/>
<line x1="455.00" y1="968.26" x2="469.40" y2="968.26" stroke="#595959" stroke-width="2"/>
<line x1="455.00" y1="1043.63" x2="469.40" y2="1043.63" stroke="#595959" stroke-width="2"/>
<line x1="517.50" y1="944.14" x2="517.50" y2="1024.67" stroke="#595959" stroke-width="2"/>
<line x1="510.30" y1="944.14" x2="524.70" y2="944.14" stroke="#595959" stroke-width="2"/>
<line x1="510.30" y1="1024.67" x2="524.70" y2="1024.67" stroke="#595959" stroke-width="2"/>
<line x1="573.00" y1="887.84" x2="573.00" y2="980.44" stroke="#595959" stroke-width="2"/>
<line x1="565.80" y1="887.84" x2="580.20" y2="887.84" stroke="#595959" stroke-width="2"/>
<line x1="565.80" y1="980.44" x2="580.20" y2="980.44" stroke="#595959" stroke-width="2"/>
<line x1="628.50" y1="874.98" x2="628.50" y2="970.33" stroke="#595959" stroke-width="2"/>
<line x1="621.30" y1="874.98" x2="635.70" y2="874.98" stroke="#595959" stroke-width="2"/>
<line x1="621.30" y1="970.33" x2="635.70" y2="970.33" stroke="#595959" stroke-width="2"/>
<line x1="681.50" y1="855.67" x2="681.50" y2="955.17" stroke="#595959" stroke-width="2"/>
<line x1="674.30" y1="855.67" x2="688.70" y2="855.67" stroke="#595959" stroke-width="2"/>
<line x1="674.30" y1="955.17" x2="688.70" y2="955.17" stroke="#595959" stroke-width="2"/>
<line x1="188.30" y1="1128.72" x2="188.30" y2="1172.31" stroke="#595959" stroke-width="2"/>
<line x1="181.10" y1="1128.72" x2="195.50" y2="1128.72" stroke="#595959" stroke-width="2"/>
<line x1="181.10" y1="1172.31" x2="195.50" y2="1172.31" stroke="#595959" stroke-width="2"/>
<line x1="243.50" y1="1107.63" x2="243.50" y2="1156.06" stroke="#595959" stroke-width="2"/>
<line x1="236.30" y1="1107.63" x2="250.70" y2="1107.63" stroke="#595959" stroke-width="2"/>
<line x1="236.30" y1="1156.06" x2="250.70" y2="1156.06" stroke="#595959" stroke-width="2"/>
<line x1="298.80" y1="1107.09" x2="298.80" y2="1155.65" stroke="#595959" stroke-width="2"/>
<line x1="291.60" y1="1107.09" x2="306.00" y2="1107.09" stroke="#595959" stroke-width="2"/>
<line x1="291.60" y1="1155.65" x2="306.00" y2="1155.65" stroke="#595959" stroke-width="2"/>
<line x1="354.30" y1="1071.93" x2="354.30" y2="1128.58" stroke="#595959" stroke-width="2"/>
<line x1="347.10" y1="1071.93" x2="361.50" y2="1071.93" stroke="#595959" stroke-width="2"/>
<line x1="347.10" y1="1128.58" x2="361.50" y2="1128.58" stroke="#595959" stroke-width="2"/>
<line x1="407.10" y1="1038.93" x2="407.10" y2="1103.17" stroke="#595959" stroke-width="2"/>
<line x1="399.90" y1="1038.93" x2="414.30" y2="1038.93" stroke="#595959" stroke-width="2"/>
<line x1="399.90" y1="1103.17" x2="414.30" y2="1103.17" stroke="#595959" stroke-width="2"/>
<line x1="462.20" y1="1043.80" x2="462.20" y2="1106.92" stroke="#595959" stroke-width="2"/>
<line x1="455.00" y1="1043.80" x2="469.40" y2="1043.80" stroke="#595959" stroke-width="2"/>
<line x1="455.00" y1="1106.92" x2="469.40" y2="1106.92" stroke="#595959" stroke-width="2"/>
<line x1="517.50" y1="1025.95" x2="517.50" y2="1093.18" stroke="#595959" stroke-width="2"/>
<line x1="510.30" y1="1025.95" x2="524.70" y2="1025.95" stroke="#595959" stroke-width="2"/>
<line x1="510.30" y1="1093.18" x2="524.70" y2="1093.18" stroke="#595959" stroke-width="2"/>
<line x1="573.00" y1="1016.21" x2="573.00" y2="1085.68" stroke="#595959" stroke-width="2"/>
<line x1="565.80" y1="1016.21" x2="580.20" y2="1016.21" stroke="#595959" stroke-width="2"/>
<line x1="565.80" y1="1085.68" x2="580.20" y2="1085.68" stroke="#595959" stroke-width="2"/>
<line x1="628.50" y1="1037.31" x2="628.50" y2="1101.92" stroke="#595959" stroke-width="2"/>
<line x1="621.30" y1="1037.31" x2="635.70" y2="1037.31" stroke="#595959" stroke-width="2"/>
<line x1="621.30" y1="1101.92" x2="635.70" y2="1101.92" stroke="#595959" stroke-width="2"/>
<line x1="681.50" y1="1007.56" x2="681.50" y2="1079.02" stroke="#595959" stroke-width="2"/>
<line x1="674.30" y1="1007.56" x2="688.70" y2="1007.56" stroke="#595959" stroke-width="2"/>
<line x1="674.30" y1="1079.02" x2="688.70" y2="1079.02" stroke="#595959" stroke-width="2"/>
<line x1="188.30" y1="1137.69" x2="188.30" y2="1176.75" stroke="#595959" stroke-width="2"/>
<line x1="181.10" y1="1137.69" x2="195.50" y2="1137.69" stroke="#595959" stroke-width="2"/>
<line x1="181.10" y1="1176.75" x2="195.50" y2="1176.75" stroke="#595959" stroke-width="2"/>
<line x1="243.50" y1="1126.96" x2="243.50" y2="1168.32" stroke="#595959" stroke-width="2"/>
<line x1="236.30" y1="1126.96" x2="250.70" y2="1126.96" stroke="#595959" stroke-width="2"/>
<line x1="236.30" y1="1168.32" x2="250.70" y2="1168.32" stroke="#595959" stroke-width="2"/>
<line x1="298.80" y1="1092.11" x2="298.80" y2="1140.94" stroke="#595959" stroke-width="2"/>
<line x1="291.60" y1="1092.11" x2="306.00" y2="1092.11" stroke="#595959" stroke-width="2"/>
<line x1="291.60" y1="1140.94" x2="306.00" y2="1140.94" stroke="#595959" stroke-width="2"/>
<line x1="354.30" y1="1054.05" x2="354.30" y2="1111.03" stroke="#595959" stroke-width="2"/>
<line x1="347.10" y1="1054.05" x2="361.50" y2="1054.05" stroke="#595959" stroke-width="2"/>
<line x1="347.10" y1="1111.03" x2="361.50" y2="1111.03" stroke="#595959" stroke-width="2"/>
<line x1="407.10" y1="1024.56" x2="407.10" y2="1087.86" stroke="#595959" stroke-width="2"/>
<line x1="399.90" y1="1024.56" x2="414.30" y2="1024.56" stroke="#595959" stroke-width="2"/>
<line x1="399.90" y1="1087.86" x2="414.30" y2="1087.86" stroke="#595959" stroke-width="2"/>
<line x1="462.20" y1="1017.59" x2="462.20" y2="1082.39" stroke="#595959" stroke-width="2"/>
<line x1="455.00" y1="1017.59" x2="469.40" y2="1017.59" stroke="#595959" stroke-width="2"/>
<line x1="455.00" y1="1082.39" x2="469.40" y2="1082.39" stroke="#595959" stroke-width="2"/>
<line x1="517.50" y1="977.38" x2="517.50" y2="1050.79" stroke="#595959" stroke-width="2"/>
<line x1="510.30" y1="977.38" x2="524.70" y2="977.38" stroke="#595959" stroke-width="2"/>
<line x1="510.30" y1="1050.79" x2="524.70" y2="1050.79" stroke="#595959" stroke-width="2"/>
<line x1="573.00" y1="977.38" x2="573.00" y2="1050.79" stroke="#595959" stroke-width="2"/>
<line x1="565.80" y1="977.38" x2="580.20" y2="977.38" stroke="#595959" stroke-width="2"/>
<line x1="565.80" y1="1050.79" x2="580.20" y2="1050.79" stroke="#595959" stroke-width="2"/>
<line x1="628.50" y1="950.04" x2="628.50" y2="1029.31" stroke="#595959" stroke-width="2"/>
<line x1="621.30" y1="950.04" x2="635.70" y2="950.04" stroke="#595959" stroke-width="2"/>
<line x1="621.30" y1="1029.31" x2="635.70" y2="1029.31" stroke="#595959" stroke-width="2"/>
<line x1="681.50" y1="891.06" x2="681.50" y2="982.97" stroke="#595959" stroke-width="2"/>
<line x1="674.30" y1="891.06" x2="688.70" y2="891.06" stroke="#595959" stroke-width="2"/>
<line x1="674.30" y1="982.97" x2="688.70" y2="982.97" stroke="#595959" stroke-width="2"/>
<line x1="188.30" y1="1140.27" x2="188.30" y2="1170.33" stroke="#595959" stroke-width="2"/>
<line x1="181.10" y1="1140.27" x2="195.50" y2="1140.27" stroke="#595959" stroke-width="2"/>
<line x1="181.10" y1="1170.33" x2="195.50" y2="1170.33" stroke="#595959" stroke-width="2"/>
<line x1="243.50" y1="1124.47" x2="243.50" y2="1157.41" stroke="#595959" stroke-width="2"/>
<line x1="236.30" y1="1124.47" x2="250.70" y2="1124.47" stroke="#595959" stroke-width="2"/>
<line x1="236.30" y1="1157.41" x2="250.70" y2="1157.41" stroke="#595959" stroke-width="2"/>
<line x1="298.80" y1="1121.31" x2="298.80" y2="1154.82" stroke="#595959" stroke-width="2"/>
<line x1="291.60" y1="1121.31" x2="306.00" y2="1121.31" stroke="#595959" stroke-width="2"/>
<line x1="291.60" y1="1154.82" x2="306.00" y2="1154.82" stroke="#595959" stroke-width="2"/>
<line x1="354.30" y1="1096.04" x2="354.30" y2="1134.14" stroke="#595959" stroke-width="2"/>
<line x1="347.10" y1="1096.04" x2="361.50" y2="1096.04" stroke="#595959" stroke-width="2"/>
<line x1="347.10" y1="1134.14" x2="361.50" y2="1134.14" stroke="#595959" stroke-width="2"/>
<line x1="407.10" y1="1068.66" x2="407.10" y2="1111.74" stroke="#595959" stroke-width="2"/>
<line x1="399.90" y1="1068.66" x2="414.30" y2="1068.66" stroke="#595959" stroke-width="2"/>
<line x1="399.90" y1="1111.74" x2="414.30" y2="1111.74" stroke="#595959" stroke-width="2"/>
<line x1="462.20" y1="1076.03" x2="462.20" y2="1117.77" stroke="#595959" stroke-width="2"/>
<line x1="455.00" y1="1076.03" x2="469.40" y2="1076.03" stroke="#595959" stroke-width="2"/>
<line x1="455.00" y1="1117.77" x2="469.40" y2="1117.77" stroke="#595959" stroke-width="2"/>
<line x1="517.50" y1="1065.50" x2="517.50" y2="1109.16" stroke="#595959" stroke-width="2"/>
<line x1="510.30" y1="1065.50" x2="524.70" y2="1065.50" stroke="#595959" stroke-width="2"/>
<line x1="510.30" y1="1109.16" x2="524.70" y2="1109.16" stroke="#595959" stroke-width="2"/>
<line x1="573.00" y1="1043.38" x2="573.00" y2="1091.06" stroke="#595959" stroke-width="2"/>
<line x1="565.80" y1="1043.38" x2="580.20" y2="1043.38" stroke="#595959" stroke-width="2"/>
<line x1="565.80" y1="1091.06" x2="580.20" y2="1091.06" stroke="#595959" stroke-width="2"/>
<line x1="628.50" y1="1039.70" x2="628.50" y2="1088.04" stroke="#595959" stroke-width="2"/>
<line x1="621.30" y1="1039.70" x2="635.70" y2="1039.70" stroke="#595959" stroke-width="2"/>
<line x1="621.30" y1="1088.04" x2="635.70" y2="1088.04" stroke="#595959" stroke-width="2"/>
<line x1="681.50" y1="1000.73" x2="681.50" y2="1056.16" stroke="#595959" stroke-width="2"/>
<line x1="674.30" y1="1000.73" x2="688.70" y2="1000.73" stroke="#595959" stroke-width="2"/>
<line x1="674.30" y1="1056.16" x2="688.70" y2="1056.16" stroke="#595959" stroke-width="2"/>
<path d="M188.30,1148.60 L243.50,1139.03 L298.80,1116.53 L354.30,1079.19 L407.10,1048.07 L462.20,1022.22 L517.50,994.46 L573.00,984.41 L628.50,951.38 L681.50,920.74" fill="none" stroke="#000" stroke-width="2" stroke-opacity="0.85"/>
<path d="M188.30,1150.04 L243.50,1136.15 L298.80,1115.09 L354.30,1069.14 L407.10,1046.16 L462.20,1016.96 L517.50,978.18 L573.00,948.50 L628.50,920.74 L681.50,871.43" fill="none" stroke="#4472C4" stroke-width="2" stroke-opacity="0.85"/>
<path d="M188.30,1153.39 L243.50,1135.20 L298.80,1102.17 L354.30,1080.62 L407.10,1044.72 L462.20,1005.95 L517.50,984.41 L573.00,934.14 L628.50,922.65 L681.50,905.42" fill="none" stroke="#70AD47" stroke-width="2" stroke-opacity="0.85"/>
<path d="M188.30,1150.52 L243.50,1131.85 L298.80,1131.37 L354.30,1100.25 L407.10,1071.05 L462.20,1075.36 L517.50,1059.56 L573.00,1050.95 L628.50,1069.61 L681.50,1043.29" fill="none" stroke="#FFC000" stroke-width="2" stroke-opacity="0.85"/>
<path d="M188.30,1157.22 L243.50,1147.64 L298.80,1116.53 L354.30,1082.54 L407.10,1056.21 L462.20,1049.99 L517.50,1014.09 L573.00,1014.09 L628.50,989.67 L681.50,937.01" fill="none" stroke="#7030A0" stroke-width="2" stroke-opacity="0.85"/>
<path d="M188.30,1155.30 L243.50,1140.94 L298.80,1138.07 L354.30,1115.09 L407.10,1090.20 L462.20,1096.90 L517.50,1087.33 L573.00,1067.22 L628.50,1063.87 L681.50,1028.45" fill="none" stroke="#C00000" stroke-width="2" stroke-opacity="0.85"/>
<circle cx="188.30" cy="1148.60" r="8.75" fill="#000"/>
<circle cx="243.50" cy="1139.03" r="8.75" fill="#000"/>
<circle cx="298.80" cy="1116.53" r="8.75" fill="#000"/>
<circle cx="354.30" cy="1079.19" r="8.75" fill="#000"/>
<circle cx="407.10" cy="1048.07" r="8.75" fill="#000"/>
<circle cx="462.20" cy="1022.22" r="8.75" fill="#000"/>
<circle cx="517.50" cy="994.46" r="8.75" fill="#000"/>
<circle cx="573.00" cy="984.41" r="8.75" fill="#000"/>
<circle cx="628.50" cy="951.38" r="8.75" fill="#000"/>
<circle cx="681.50" cy="920.74" r="8.75" fill="#000"/>
<circle cx="188.30" cy="1150.04" r="8.75" fill="#4472C4"/>
<circle cx="243.50" cy="1136.15" r="8.75" fill="#4472C4"/>
<circle cx="298.80" cy="1115.09" r="8.75" fill="#4472C4"/>
<circle cx="354.30" cy="1069.14" r="8.75" fill="#4472C4"/>
<circle cx="407.10" cy="1046.16" r="8.75" fill="#4472C4"/>
<circle cx="462.20" cy="1016.96" r="8.75" fill="#4472C4"/>
<circle cx="517.50" cy="978.18" r="8.75" fill="#4472C4"/>
<circle cx="573.00" cy="948.50" r="8.75" fill="#4472C4"/>
<circle cx="628.50" cy="920.74" r="8.75" fill="#4472C4"/>
<circle cx="681.50" cy="871.43" r="8.75" fill="#4472C4"/>
<rect x="179.55" y="1144.64" width="17.50" height="17.50" fill="#70AD47"/>
<rect x="234.75" y="1126.45" width="17.50" height="17.50" fill="#70AD47"/>
<rect x="290.05" y="1093.42" width="17.50" height="17.50" fill="#70AD47"/>
<rect x="345.55" y="1071.88" width="17.50" height="17.50" fill="#70AD47"/>
<rect x="398.35" y="1035.97" width="17.50" height="17.50" fill="#70AD47"/>
<rect x="453.45" y="997.20" width="17.50" height="17.50" fill="#70AD47"/>
<rect x="508.75" y="975.66" width="17.50" height="17.50" fill="#70AD47"/>
<rect x="564.25" y="925.39" width="17.50" height="17.50" fill="#70AD47"/>
<rect x="619.75" y="913.90" width="17.50" height="17.50" fill="#70AD47"/>
<rect x="672.75" y="896.67" width="17.50" height="17.50" fill="#70AD47"/>
<rect x="179.55" y="1141.77" width="17.50" height="17.50" fill="#FFC000"/>
<rect x="234.75" y="1123.10" width="17.50" height="17.50" fill="#FFC000"/>
<rect x="290.05" y="1122.62" width="17.50" height="17.50" fill="#FFC000"/>
<rect x="345.55" y="1091.50" width="17.50" height="17.50" fill="#FFC000"/>
<rect x="398.35" y="1062.30" width="17.50" height="17.50" fill="#FFC000"/>
<rect x="453.45" y="1066.61" width="17.50" height="17.50" fill="#FFC000"/>
<rect x="508.75" y="1050.81" width="17.50" height="17.50" fill="#FFC000"/>
<rect x="564.25" y="1042.20" width="17.50" height="17.50" fill="#FFC000"/>
<rect x="619.75" y="1060.86" width="17.50" height="17.50" fill="#FFC000"/>
<rect x="672.75" y="1034.54" width="17.50" height="17.50" fill="#FFC000"/>
<polygon points="188.30,1147.04 198.01,1165.54 178.59,1165.54" fill="#7030A0"/>
<polygon points="243.50,1137.47 253.21,1155.97 233.79,1155.97" fill="#7030A0"/>
<polygon points="298.80,1106.35 308.51,1124.85 289.09,1124.85" fill="#7030A0"/>
<polygon points="354.30,1072.36 364.01,1090.86 344.59,1090.86" fill="#7030A0"/>
<polygon points="407.10,1046.04 416.81,1064.54 397.39,1064.54" fill="#7030A0"/>
<polygon points="462.20,1039.81 471.91,1058.31 452.49,1058.31" fill="#7030A0"/>
<polygon points="517.50,1003.91 527.21,1022.41 507.79,1022.41" fill="#7030A0"/>
<polygon points="573.00,1003.91 582.71,1022.41 563.29,1022.41" fill="#7030A0"/>
<polygon points="628.50,979.50 638.21,998.00 618.79,998.00" fill="#7030A0"/>
<polygon points="681.50,926.84 691.21,945.34 671.79,945.34" fill="#7030A0"/>
<polygon points="188.30,1145.13 198.01,1163.63 178.59,1163.63" fill="#C00000"/>
<polygon points="243.50,1130.77 253.21,1149.27 233.79,1149.27" fill="#C00000"/>
<polygon points="298.80,1127.89 308.51,1146.39 289.09,1146.39" fill="#C00000"/>
<polygon points="354.30,1104.92 364.01,1123.42 344.59,1123.42" fill="#C00000"/>
<polygon points="407.10,1080.02 416.81,1098.52 397.39,1098.52" fill="#C00000"/>
<polygon points="462.20,1086.73 471.91,1105.23 452.49,1105.23" fill="#C00000"/>
<polygon points="517.50,1077.15 527.21,1095.65 507.79,1095.65" fill="#C00000"/>
<polygon points="573.00,1057.05 582.71,1075.55 563.29,1075.55" fill="#C00000"/>
<polygon points="628.50,1053.70 638.21,1072.20 618.79,1072.20" fill="#C00000"/>
<polygon points="681.50,1018.27 691.21,1036.77 671.79,1036.77" fill="#C00000"/>
<line x1="174.20" y1="717.70" x2="231.80" y2="717.70" stroke="#000" stroke-width="2"/>
<circle cx="202.70" cy="717.70" r="4.75" fill="#000"/>
<text x="242.21" y="726.40" font-size="24.90" fill="#000">PBS</text>
<line x1="174.20" y1="754.90" x2="231.80" y2="754.90" stroke="#4472C4" stroke-width="2"/>
<circle cx="202.70" cy="754.90" r="4.75" fill="#4472C4"/>
<text x="242.21" y="763.60" font-size="24.90" fill="#000">PBS + Laser</text>
<line x1="174.20" y1="792.10" x2="231.80" y2="792.10" stroke="#70AD47" stroke-width="2"/>
<rect x="197.95" y="787.35" width="9.50" height="9.50" fill="#70AD47"/>
<text x="242.21" y="800.80" font-size="24.90" fill="#000">PCNH</text>
<line x1="174.20" y1="829.30" x2="231.80" y2="829.30" stroke="#FFC000" stroke-width="2"/>
<rect x="197.95" y="824.55" width="9.50" height="9.50" fill="#FFC000"/>
<text x="242.21" y="838.00" font-size="24.90" fill="#000">PCNH + Laser</text>
<line x1="174.20" y1="866.50" x2="231.80" y2="866.50" stroke="#7030A0" stroke-width="2"/>
<polygon points="202.70,860.73 208.21,871.23 197.19,871.23" fill="#7030A0"/>
<text x="243.70" y="875.20" font-size="24.90" fill="#000">TRPV2-PCNH</text>
<line x1="174.20" y1="903.70" x2="231.80" y2="903.70" stroke="#C00000" stroke-width="2"/>
<polygon points="202.70,897.93 208.21,908.43 197.19,908.43" fill="#C00000"/>
<text x="243.70" y="912.40" font-size="24.90" fill="#000">TRPV2-PCNH + Laser</text>
<text x="292.21" y="1281.00" font-size="29.10" font-weight="bold" fill="#000">Days post treatment</text>
<text x="816.47" y="667.50" font-size="45.63" font-weight="bold" fill="#000">e</text>
<text x="1084.80" y="680.70" font-size="33.86" font-weight="bold" fill="#000">HT-29-TRPV2</text>
<line x1="942.00" y1="719.80" x2="942.00" y2="1197.50" stroke="#000" stroke-width="2"/>
<line x1="932.50" y1="1196.50" x2="1491.30" y2="1196.50" stroke="#000" stroke-width="2"/>
<line x1="932.90" y1="1196.50" x2="942.00" y2="1196.50" stroke="#000" stroke-width="2"/>
<text x="904.23" y="1206.80" font-size="28.60" fill="#000">0</text>
<line x1="932.90" y1="1101.16" x2="942.00" y2="1101.16" stroke="#000" stroke-width="2"/>
<text x="872.48" y="1111.46" font-size="28.60" fill="#000">200</text>
<line x1="932.90" y1="1005.82" x2="942.00" y2="1005.82" stroke="#000" stroke-width="2"/>
<text x="872.48" y="1016.12" font-size="28.60" fill="#000">400</text>
<line x1="932.90" y1="910.48" x2="942.00" y2="910.48" stroke="#000" stroke-width="2"/>
<text x="872.48" y="920.78" font-size="28.60" fill="#000">600</text>
<line x1="932.90" y1="815.14" x2="942.00" y2="815.14" stroke="#000" stroke-width="2"/>
<text x="872.48" y="825.44" font-size="28.60" fill="#000">800</text>
<line x1="932.90" y1="719.80" x2="942.00" y2="719.80" stroke="#000" stroke-width="2"/>
<text x="856.47" y="730.10" font-size="28.60" fill="#000">1000</text>
<line x1="969.00" y1="1196.50" x2="969.00" y2="1201.70" stroke="#000" stroke-width="2"/>
<text x="960.88" y="1234.60" font-size="29.00" fill="#000">0</text>
<line x1="1023.80" y1="1196.50" x2="1023.80" y2="1201.70" stroke="#000" stroke-width="2"/>
<text x="1015.75" y="1234.60" font-size="29.00" fill="#000">2</text>
<line x1="1078.60" y1="1196.50" x2="1078.60" y2="1201.70" stroke="#000" stroke-width="2"/>
<text x="1070.55" y="1234.60" font-size="29.00" fill="#000">5</text>
<line x1="1133.80" y1="1196.50" x2="1133.80" y2="1201.70" stroke="#000" stroke-width="2"/>
<text x="1125.75" y="1234.60" font-size="29.00" fill="#000">7</text>
<line x1="1187.50" y1="1196.50" x2="1187.50" y2="1201.70" stroke="#000" stroke-width="2"/>
<text x="1179.45" y="1234.60" font-size="29.00" fill="#000">9</text>
<line x1="1241.90" y1="1196.50" x2="1241.90" y2="1201.70" stroke="#000" stroke-width="2"/>
<text x="1225.44" y="1234.60" font-size="29.00" fill="#000">12</text>
<line x1="1297.40" y1="1196.50" x2="1297.40" y2="1201.70" stroke="#000" stroke-width="2"/>
<text x="1280.65" y="1234.60" font-size="29.00" fill="#000">14</text>
<line x1="1352.80" y1="1196.50" x2="1352.80" y2="1201.70" stroke="#000" stroke-width="2"/>
<text x="1336.20" y="1234.60" font-size="29.00" fill="#000">16</text>
<line x1="1408.20" y1="1196.50" x2="1408.20" y2="1201.70" stroke="#000" stroke-width="2"/>
<text x="1391.67" y="1234.60" font-size="29.00" fill="#000">19</text>
<line x1="1463.60" y1="1196.50" x2="1463.60" y2="1201.70" stroke="#000" stroke-width="2"/>
<text x="1447.43" y="1234.60" font-size="29.00" fill="#000">21</text>
<line x1="1491.30" y1="1196.50" x2="1491.30" y2="1201.70" stroke="#000" stroke-width="2"/>
<line x1="969.00" y1="1123.99" x2="969.00" y2="1163.18" stroke="#595959" stroke-width="2"/>
<line x1="961.80" y1="1123.99" x2="976.20" y2="1123.99" stroke="#595959" stroke-width="2"/>
<line x1="961.80" y1="1163.18" x2="976.20" y2="1163.18" stroke="#595959" stroke-width="2"/>
<line x1="1023.80" y1="1104.59" x2="1023.80" y2="1147.30" stroke="#595959" stroke-width="2"/>
<line x1="1016.60" y1="1104.59" x2="1031.00" y2="1104.59" stroke="#595959" stroke-width="2"/>
<line x1="1016.60" y1="1147.30" x2="1031.00" y2="1147.30" stroke="#595959" stroke-width="2"/>
<line x1="1078.60" y1="1014.92" x2="1078.60" y2="1073.94" stroke="#595959" stroke-width="2"/>
<line x1="1071.40" y1="1014.92" x2="1085.80" y2="1014.92" stroke="#595959" stroke-width="2"/>
<line x1="1071.40" y1="1073.94" x2="1085.80" y2="1073.94" stroke="#595959" stroke-width="2"/>
<line x1="1133.80" y1="993.95" x2="1133.80" y2="1056.78" stroke="#595959" stroke-width="2"/>
<line x1="1126.60" y1="993.95" x2="1141.00" y2="993.95" stroke="#595959" stroke-width="2"/>
<line x1="1126.60" y1="1056.78" x2="1141.00" y2="1056.78" stroke="#595959" stroke-width="2"/>
<line x1="1187.50" y1="968.78" x2="1187.50" y2="1036.19" stroke="#595959" stroke-width="2"/>
<line x1="1180.30" y1="968.78" x2="1194.70" y2="968.78" stroke="#595959" stroke-width="2"/>
<line x1="1180.30" y1="1036.19" x2="1194.70" y2="1036.19" stroke="#595959" stroke-width="2"/>
<line x1="1241.90" y1="927.36" x2="1241.90" y2="1002.29" stroke="#595959" stroke-width="2"/>
<line x1="1234.70" y1="927.36" x2="1249.10" y2="927.36" stroke="#595959" stroke-width="2"/>
<line x1="1234.70" y1="1002.29" x2="1249.10" y2="1002.29" stroke="#595959" stroke-width="2"/>
<line x1="1297.40" y1="911.10" x2="1297.40" y2="988.99" stroke="#595959" stroke-width="2"/>
<line x1="1290.20" y1="911.10" x2="1304.60" y2="911.10" stroke="#595959" stroke-width="2"/>
<line x1="1290.20" y1="988.99" x2="1304.60" y2="988.99" stroke="#595959" stroke-width="2"/>
<line x1="1352.80" y1="906.90" x2="1352.80" y2="985.56" stroke="#595959" stroke-width="2"/>
<line x1="1345.60" y1="906.90" x2="1360.00" y2="906.90" stroke="#595959" stroke-width="2"/>
<line x1="1345.60" y1="985.56" x2="1360.00" y2="985.56" stroke="#595959" stroke-width="2"/>
<line x1="1408.20" y1="873.35" x2="1408.20" y2="958.10" stroke="#595959" stroke-width="2"/>
<line x1="1401.00" y1="873.35" x2="1415.40" y2="873.35" stroke="#595959" stroke-width="2"/>
<line x1="1401.00" y1="958.10" x2="1415.40" y2="958.10" stroke="#595959" stroke-width="2"/>
<line x1="1463.60" y1="821.96" x2="1463.60" y2="916.06" stroke="#595959" stroke-width="2"/>
<line x1="1456.40" y1="821.96" x2="1470.80" y2="821.96" stroke="#595959" stroke-width="2"/>
<line x1="1456.40" y1="916.06" x2="1470.80" y2="916.06" stroke="#595959" stroke-width="2"/>
<line x1="969.00" y1="1120.32" x2="969.00" y2="1160.18" stroke="#595959" stroke-width="2"/>
<line x1="961.80" y1="1120.32" x2="976.20" y2="1120.32" stroke="#595959" stroke-width="2"/>
<line x1="961.80" y1="1160.18" x2="976.20" y2="1160.18" stroke="#595959" stroke-width="2"/>
<line x1="1023.80" y1="1091.48" x2="1023.80" y2="1136.58" stroke="#595959" stroke-width="2"/>
<line x1="1016.60" y1="1091.48" x2="1031.00" y2="1091.48" stroke="#595959" stroke-width="2"/>
<line x1="1016.60" y1="1136.58" x2="1031.00" y2="1136.58" stroke="#595959" stroke-width="2"/>
<line x1="1078.60" y1="1026.46" x2="1078.60" y2="1083.38" stroke="#595959" stroke-width="2"/>
<line x1="1071.40" y1="1026.46" x2="1085.80" y2="1026.46" stroke="#595959" stroke-width="2"/>
<line x1="1071.40" y1="1083.38" x2="1085.80" y2="1083.38" stroke="#595959" stroke-width="2"/>
<line x1="1133.80" y1="974.55" x2="1133.80" y2="1040.91" stroke="#595959" stroke-width="2"/>
<line x1="1126.60" y1="974.55" x2="1141.00" y2="974.55" stroke="#595959" stroke-width="2"/>
<line x1="1126.60" y1="1040.91" x2="1141.00" y2="1040.91" stroke="#595959" stroke-width="2"/>
<line x1="1187.50" y1="938.37" x2="1187.50" y2="1011.30" stroke="#595959" stroke-width="2"/>
<line x1="1180.30" y1="938.37" x2="1194.70" y2="938.37" stroke="#595959" stroke-width="2"/>
<line x1="1180.30" y1="1011.30" x2="1194.70" y2="1011.30" stroke="#595959" stroke-width="2"/>
<line x1="1241.90" y1="921.06" x2="1241.90" y2="997.14" stroke="#595959" stroke-width="2"/>
<line x1="1234.70" y1="921.06" x2="1249.10" y2="921.06" stroke="#595959" stroke-width="2"/>
<line x1="1234.70" y1="997.14" x2="1249.10" y2="997.14" stroke="#595959" stroke-width="2"/>
<line x1="1297.40" y1="878.06" x2="1297.40" y2="961.96" stroke="#595959" stroke-width="2"/>
<line x1="1290.20" y1="878.06" x2="1304.60" y2="878.06" stroke="#595959" stroke-width="2"/>
<line x1="1290.20" y1="961.96" x2="1304.60" y2="961.96" stroke="#595959" stroke-width="2"/>
<line x1="1352.80" y1="832.44" x2="1352.80" y2="924.64" stroke="#595959" stroke-width="2"/>
<line x1="1345.60" y1="832.44" x2="1360.00" y2="832.44" stroke="#595959" stroke-width="2"/>
<line x1="1345.60" y1="924.64" x2="1360.00" y2="924.64" stroke="#595959" stroke-width="2"/>
<line x1="1408.20" y1="825.10" x2="1408.20" y2="918.63" stroke="#595959" stroke-width="2"/>
<line x1="1401.00" y1="825.10" x2="1415.40" y2="825.10" stroke="#595959" stroke-width="2"/>
<line x1="1401.00" y1="918.63" x2="1415.40" y2="918.63" stroke="#595959" stroke-width="2"/>
<line x1="1463.60" y1="793.64" x2="1463.60" y2="892.89" stroke="#595959" stroke-width="2"/>
<line x1="1456.40" y1="793.64" x2="1470.80" y2="793.64" stroke="#595959" stroke-width="2"/>
<line x1="1456.40" y1="892.89" x2="1470.80" y2="892.89" stroke="#595959" stroke-width="2"/>
<line x1="969.00" y1="1119.27" x2="969.00" y2="1159.32" stroke="#595959" stroke-width="2"/>
<line x1="961.80" y1="1119.27" x2="976.20" y2="1119.27" stroke="#595959" stroke-width="2"/>
<line x1="961.80" y1="1159.32" x2="976.20" y2="1159.32" stroke="#595959" stroke-width="2"/>
<line x1="1023.80" y1="1108.26" x2="1023.80" y2="1150.31" stroke="#595959" stroke-width="2"/>
<line x1="1016.60" y1="1108.26" x2="1031.00" y2="1108.26" stroke="#595959" stroke-width="2"/>
<line x1="1016.60" y1="1150.31" x2="1031.00" y2="1150.31" stroke="#595959" stroke-width="2"/>
<line x1="1078.60" y1="1043.24" x2="1078.60" y2="1097.11" stroke="#595959" stroke-width="2"/>
<line x1="1071.40" y1="1043.24" x2="1085.80" y2="1043.24" stroke="#595959" stroke-width="2"/>
<line x1="1071.40" y1="1097.11" x2="1085.80" y2="1097.11" stroke="#595959" stroke-width="2"/>
<line x1="1133.80" y1="1017.55" x2="1133.80" y2="1076.09" stroke="#595959" stroke-width="2"/>
<line x1="1126.60" y1="1017.55" x2="1141.00" y2="1017.55" stroke="#595959" stroke-width="2"/>
<line x1="1126.60" y1="1076.09" x2="1141.00" y2="1076.09" stroke="#595959" stroke-width="2"/>
<line x1="1187.50" y1="977.69" x2="1187.50" y2="1043.48" stroke="#595959" stroke-width="2"/>
<line x1="1180.30" y1="977.69" x2="1194.70" y2="977.69" stroke="#595959" stroke-width="2"/>
<line x1="1180.30" y1="1043.48" x2="1194.70" y2="1043.48" stroke="#595959" stroke-width="2"/>
<line x1="1241.90" y1="965.63" x2="1241.90" y2="1033.61" stroke="#595959" stroke-width="2"/>
<line x1="1234.70" y1="965.63" x2="1249.10" y2="965.63" stroke="#595959" stroke-width="2"/>
<line x1="1234.70" y1="1033.61" x2="1249.10" y2="1033.61" stroke="#595959" stroke-width="2"/>
<line x1="1297.40" y1="923.68" x2="1297.40" y2="999.29" stroke="#595959" stroke-width="2"/>
<line x1="1290.20" y1="923.68" x2="1304.60" y2="923.68" stroke="#595959" stroke-width="2"/>
<line x1="1290.20" y1="999.29" x2="1304.60" y2="999.29" stroke="#595959" stroke-width="2"/>
<line x1="1352.80" y1="917.39" x2="1352.80" y2="994.14" stroke="#595959" stroke-width="2"/>
<line x1="1345.60" y1="917.39" x2="1360.00" y2="917.39" stroke="#595959" stroke-width="2"/>
<line x1="1345.60" y1="994.14" x2="1360.00" y2="994.14" stroke="#595959" stroke-width="2"/>
<line x1="1408.20" y1="898.51" x2="1408.20" y2="978.70" stroke="#595959" stroke-width="2"/>
<line x1="1401.00" y1="898.51" x2="1415.40" y2="898.51" stroke="#595959" stroke-width="2"/>
<line x1="1401.00" y1="978.70" x2="1415.40" y2="978.70" stroke="#595959" stroke-width="2"/>
<line x1="1463.60" y1="860.24" x2="1463.60" y2="947.38" stroke="#595959" stroke-width="2"/>
<line x1="1456.40" y1="860.24" x2="1470.80" y2="860.24" stroke="#595959" stroke-width="2"/>
<line x1="1456.40" y1="947.38" x2="1470.80" y2="947.38" stroke="#595959" stroke-width="2"/>
<line x1="969.00" y1="1116.59" x2="969.00" y2="1158.19" stroke="#595959" stroke-width="2"/>
<line x1="961.80" y1="1116.59" x2="976.20" y2="1116.59" stroke="#595959" stroke-width="2"/>
<line x1="961.80" y1="1158.19" x2="976.20" y2="1158.19" stroke="#595959" stroke-width="2"/>
<line x1="1023.80" y1="1113.41" x2="1023.80" y2="1155.65" stroke="#595959" stroke-width="2"/>
<line x1="1016.60" y1="1113.41" x2="1031.00" y2="1113.41" stroke="#595959" stroke-width="2"/>
<line x1="1016.60" y1="1155.65" x2="1031.00" y2="1155.65" stroke="#595959" stroke-width="2"/>
<line x1="1078.60" y1="1086.95" x2="1078.60" y2="1134.43" stroke="#595959" stroke-width="2"/>
<line x1="1071.40" y1="1086.95" x2="1085.80" y2="1086.95" stroke="#595959" stroke-width="2"/>
<line x1="1071.40" y1="1134.43" x2="1085.80" y2="1134.43" stroke="#595959" stroke-width="2"/>
<line x1="1133.80" y1="1066.32" x2="1133.80" y2="1117.89" stroke="#595959" stroke-width="2"/>
<line x1="1126.60" y1="1066.32" x2="1141.00" y2="1066.32" stroke="#595959" stroke-width="2"/>
<line x1="1126.60" y1="1117.89" x2="1141.00" y2="1117.89" stroke="#595959" stroke-width="2"/>
<line x1="1187.50" y1="1023.99" x2="1187.50" y2="1083.95" stroke="#595959" stroke-width="2"/>
<line x1="1180.30" y1="1023.99" x2="1194.70" y2="1023.99" stroke="#595959" stroke-width="2"/>
<line x1="1180.30" y1="1083.95" x2="1194.70" y2="1083.95" stroke="#595959" stroke-width="2"/>
<line x1="1241.90" y1="1034.57" x2="1241.90" y2="1092.43" stroke="#595959" stroke-width="2"/>
<line x1="1234.70" y1="1034.57" x2="1249.10" y2="1034.57" stroke="#595959" stroke-width="2"/>
<line x1="1234.70" y1="1092.43" x2="1249.10" y2="1092.43" stroke="#595959" stroke-width="2"/>
<line x1="1297.40" y1="991.18" x2="1297.40" y2="1057.64" stroke="#595959" stroke-width="2"/>
<line x1="1290.20" y1="991.18" x2="1304.60" y2="991.18" stroke="#595959" stroke-width="2"/>
<line x1="1290.20" y1="1057.64" x2="1304.60" y2="1057.64" stroke="#595959" stroke-width="2"/>
<line x1="1352.80" y1="969.49" x2="1352.80" y2="1040.25" stroke="#595959" stroke-width="2"/>
<line x1="1345.60" y1="969.49" x2="1360.00" y2="969.49" stroke="#595959" stroke-width="2"/>
<line x1="1345.60" y1="1040.25" x2="1360.00" y2="1040.25" stroke="#595959" stroke-width="2"/>
<line x1="1408.20" y1="984.30" x2="1408.20" y2="1052.13" stroke="#595959" stroke-width="2"/>
<line x1="1401.00" y1="984.30" x2="1415.40" y2="984.30" stroke="#595959" stroke-width="2"/>
<line x1="1401.00" y1="1052.13" x2="1415.40" y2="1052.13" stroke="#595959" stroke-width="2"/>
<line x1="1463.60" y1="963.67" x2="1463.60" y2="1035.58" stroke="#595959" stroke-width="2"/>
<line x1="1456.40" y1="963.67" x2="1470.80" y2="963.67" stroke="#595959" stroke-width="2"/>
<line x1="1456.40" y1="1035.58" x2="1470.80" y2="1035.58" stroke="#595959" stroke-width="2"/>
<line x1="969.00" y1="1137.63" x2="969.00" y2="1174.33" stroke="#595959" stroke-width="2"/>
<line x1="961.80" y1="1137.63" x2="976.20" y2="1137.63" stroke="#595959" stroke-width="2"/>
<line x1="961.80" y1="1174.33" x2="976.20" y2="1174.33" stroke="#595959" stroke-width="2"/>
<line x1="1023.80" y1="1122.95" x2="1023.80" y2="1162.32" stroke="#595959" stroke-width="2"/>
<line x1="1016.60" y1="1122.95" x2="1031.00" y2="1122.95" stroke="#595959" stroke-width="2"/>
<line x1="1016.60" y1="1162.32" x2="1031.00" y2="1162.32" stroke="#595959" stroke-width="2"/>
<line x1="1078.60" y1="1066.31" x2="1078.60" y2="1115.99" stroke="#595959" stroke-width="2"/>
<line x1="1071.40" y1="1066.31" x2="1085.80" y2="1066.31" stroke="#595959" stroke-width="2"/>
<line x1="1071.40" y1="1115.99" x2="1085.80" y2="1115.99" stroke="#595959" stroke-width="2"/>
<line x1="1133.80" y1="1050.58" x2="1133.80" y2="1103.11" stroke="#595959" stroke-width="2"/>
<line x1="1126.60" y1="1050.58" x2="1141.00" y2="1050.58" stroke="#595959" stroke-width="2"/>
<line x1="1126.60" y1="1103.11" x2="1141.00" y2="1103.11" stroke="#595959" stroke-width="2"/>
<line x1="1187.50" y1="1000.77" x2="1187.50" y2="1062.36" stroke="#595959" stroke-width="2"/>
<line x1="1180.30" y1="1000.77" x2="1194.70" y2="1000.77" stroke="#595959" stroke-width="2"/>
<line x1="1180.30" y1="1062.36" x2="1194.70" y2="1062.36" stroke="#595959" stroke-width="2"/>
<line x1="1241.90" y1="941.51" x2="1241.90" y2="1013.88" stroke="#595959" stroke-width="2"/>
<line x1="1234.70" y1="941.51" x2="1249.10" y2="941.51" stroke="#595959" stroke-width="2"/>
<line x1="1234.70" y1="1013.88" x2="1249.10" y2="1013.88" stroke="#595959" stroke-width="2"/>
<line x1="1297.40" y1="898.51" x2="1297.40" y2="978.70" stroke="#595959" stroke-width="2"/>
<line x1="1290.20" y1="898.51" x2="1304.60" y2="898.51" stroke="#595959" stroke-width="2"/>
<line x1="1290.20" y1="978.70" x2="1304.60" y2="978.70" stroke="#595959" stroke-width="2"/>
<line x1="1352.80" y1="868.10" x2="1352.80" y2="953.81" stroke="#595959" stroke-width="2"/>
<line x1="1345.60" y1="868.10" x2="1360.00" y2="868.10" stroke="#595959" stroke-width="2"/>
<line x1="1345.60" y1="953.81" x2="1360.00" y2="953.81" stroke="#595959" stroke-width="2"/>
<line x1="1408.20" y1="868.10" x2="1408.20" y2="953.81" stroke="#595959" stroke-width="2"/>
<line x1="1401.00" y1="868.10" x2="1415.40" y2="868.10" stroke="#595959" stroke-width="2"/>
<line x1="1401.00" y1="953.81" x2="1415.40" y2="953.81" stroke="#595959" stroke-width="2"/>
<line x1="1463.60" y1="841.36" x2="1463.60" y2="931.93" stroke="#595959" stroke-width="2"/>
<line x1="1456.40" y1="841.36" x2="1470.80" y2="841.36" stroke="#595959" stroke-width="2"/>
<line x1="1456.40" y1="931.93" x2="1470.80" y2="931.93" stroke="#595959" stroke-width="2"/>
<line x1="969.00" y1="1137.39" x2="969.00" y2="1175.53" stroke="#595959" stroke-width="2"/>
<line x1="961.80" y1="1137.39" x2="976.20" y2="1137.39" stroke="#595959" stroke-width="2"/>
<line x1="961.80" y1="1175.53" x2="976.20" y2="1175.53" stroke="#595959" stroke-width="2"/>
<line x1="1023.80" y1="1137.87" x2="1023.80" y2="1171.23" stroke="#595959" stroke-width="2"/>
<line x1="1016.60" y1="1137.87" x2="1031.00" y2="1137.87" stroke="#595959" stroke-width="2"/>
<line x1="1016.60" y1="1171.23" x2="1031.00" y2="1171.23" stroke="#595959" stroke-width="2"/>
<line x1="1078.60" y1="1118.80" x2="1078.60" y2="1171.23" stroke="#595959" stroke-width="2"/>
<line x1="1071.40" y1="1118.80" x2="1085.80" y2="1118.80" stroke="#595959" stroke-width="2"/>
<line x1="1071.40" y1="1171.23" x2="1085.80" y2="1171.23" stroke="#595959" stroke-width="2"/>
<line x1="1133.80" y1="1093.53" x2="1133.80" y2="1165.04" stroke="#595959" stroke-width="2"/>
<line x1="1126.60" y1="1093.53" x2="1141.00" y2="1093.53" stroke="#595959" stroke-width="2"/>
<line x1="1126.60" y1="1165.04" x2="1141.00" y2="1165.04" stroke="#595959" stroke-width="2"/>
<line x1="1187.50" y1="1094.96" x2="1187.50" y2="1133.10" stroke="#595959" stroke-width="2"/>
<line x1="1180.30" y1="1094.96" x2="1194.70" y2="1094.96" stroke="#595959" stroke-width="2"/>
<line x1="1180.30" y1="1133.10" x2="1194.70" y2="1133.10" stroke="#595959" stroke-width="2"/>
<line x1="1241.90" y1="1093.06" x2="1241.90" y2="1159.79" stroke="#595959" stroke-width="2"/>
<line x1="1234.70" y1="1093.06" x2="1249.10" y2="1093.06" stroke="#595959" stroke-width="2"/>
<line x1="1234.70" y1="1159.79" x2="1249.10" y2="1159.79" stroke="#595959" stroke-width="2"/>
<line x1="1297.40" y1="1082.57" x2="1297.40" y2="1154.07" stroke="#595959" stroke-width="2"/>
<line x1="1290.20" y1="1082.57" x2="1304.60" y2="1082.57" stroke="#595959" stroke-width="2"/>
<line x1="1290.20" y1="1154.07" x2="1304.60" y2="1154.07" stroke="#595959" stroke-width="2"/>
<line x1="1352.80" y1="1062.07" x2="1352.80" y2="1117.37" stroke="#595959" stroke-width="2"/>
<line x1="1345.60" y1="1062.07" x2="1360.00" y2="1062.07" stroke="#595959" stroke-width="2"/>
<line x1="1345.60" y1="1117.37" x2="1360.00" y2="1117.37" stroke="#595959" stroke-width="2"/>
<line x1="1408.20" y1="1075.42" x2="1408.20" y2="1127.86" stroke="#595959" stroke-width="2"/>
<line x1="1401.00" y1="1075.42" x2="1415.40" y2="1075.42" stroke="#595959" stroke-width="2"/>
<line x1="1401.00" y1="1127.86" x2="1415.40" y2="1127.86" stroke="#595959" stroke-width="2"/>
<line x1="1463.60" y1="1053.97" x2="1463.60" y2="1130.24" stroke="#595959" stroke-width="2"/>
<line x1="1456.40" y1="1053.97" x2="1470.80" y2="1053.97" stroke="#595959" stroke-width="2"/>
<line x1="1456.40" y1="1130.24" x2="1470.80" y2="1130.24" stroke="#595959" stroke-width="2"/>
<path d="M969.00,1143.59 L1023.80,1125.95 L1078.60,1044.43 L1133.80,1025.36 L1187.50,1002.48 L1241.90,964.82 L1297.40,950.05 L1352.80,946.23 L1408.20,915.72 L1463.60,869.01" fill="none" stroke="#000" stroke-width="2" stroke-opacity="0.85"/>
<path d="M969.00,1140.25 L1023.80,1114.03 L1078.60,1054.92 L1133.80,1007.73 L1187.50,974.83 L1241.90,959.10 L1297.40,920.01 L1352.80,878.54 L1408.20,871.87 L1463.60,843.27" fill="none" stroke="#4472C4" stroke-width="2" stroke-opacity="0.85"/>
<path d="M969.00,1139.30 L1023.80,1129.29 L1078.60,1070.17 L1133.80,1046.82 L1187.50,1010.59 L1241.90,999.62 L1297.40,961.49 L1352.80,955.77 L1408.20,938.61 L1463.60,903.81" fill="none" stroke="#70AD47" stroke-width="2" stroke-opacity="0.85"/>
<path d="M969.00,1137.39 L1023.80,1134.53 L1078.60,1110.69 L1133.80,1092.10 L1187.50,1053.97 L1241.90,1063.50 L1297.40,1024.41 L1352.80,1004.87 L1408.20,1018.21 L1463.60,999.62" fill="none" stroke="#FFC000" stroke-width="2" stroke-opacity="0.85"/>
<path d="M969.00,1155.98 L1023.80,1142.63 L1078.60,1091.15 L1133.80,1076.85 L1187.50,1031.56 L1241.90,977.69 L1297.40,938.61 L1352.80,910.96 L1408.20,910.96 L1463.60,886.64" fill="none" stroke="#7030A0" stroke-width="2" stroke-opacity="0.85"/>
<path d="M969.00,1156.46 L1023.80,1154.55 L1078.60,1145.02 L1133.80,1129.29 L1187.50,1114.03 L1241.90,1126.43 L1297.40,1118.32 L1352.80,1089.72 L1408.20,1101.64 L1463.60,1092.10" fill="none" stroke="#C00000" stroke-width="2" stroke-opacity="0.85"/>
<circle cx="969.00" cy="1143.59" r="8.75" fill="#000"/>
<circle cx="1023.80" cy="1125.95" r="8.75" fill="#000"/>
<circle cx="1078.60" cy="1044.43" r="8.75" fill="#000"/>
<circle cx="1133.80" cy="1025.36" r="8.75" fill="#000"/>
<circle cx="1187.50" cy="1002.48" r="8.75" fill="#000"/>
<circle cx="1241.90" cy="964.82" r="8.75" fill="#000"/>
<circle cx="1297.40" cy="950.05" r="8.75" fill="#000"/>
<circle cx="1352.80" cy="946.23" r="8.75" fill="#000"/>
<circle cx="1408.20" cy="915.72" r="8.75" fill="#000"/>
<circle cx="1463.60" cy="869.01" r="8.75" fill="#000"/>
<circle cx="969.00" cy="1140.25" r="8.75" fill="#4472C4"/>
<circle cx="1023.80" cy="1114.03" r="8.75" fill="#4472C4"/>
<circle cx="1078.60" cy="1054.92" r="8.75" fill="#4472C4"/>
<circle cx="1133.80" cy="1007.73" r="8.75" fill="#4472C4"/>
<circle cx="1187.50" cy="974.83" r="8.75" fill="#4472C4"/>
<circle cx="1241.90" cy="959.10" r="8.75" fill="#4472C4"/>
<circle cx="1297.40" cy="920.01" r="8.75" fill="#4472C4"/>
<circle cx="1352.80" cy="878.54" r="8.75" fill="#4472C4"/>
<circle cx="1408.20" cy="871.87" r="8.75" fill="#4472C4"/>
<circle cx="1463.60" cy="843.27" r="8.75" fill="#4472C4"/>
<rect x="960.25" y="1130.55" width="17.50" height="17.50" fill="#70AD47"/>
<rect x="1015.05" y="1120.54" width="17.50" height="17.50" fill="#70AD47"/>
<rect x="1069.85" y="1061.42" width="17.50" height="17.50" fill="#70AD47"/>
<rect x="1125.05" y="1038.07" width="17.50" height="17.50" fill="#70AD47"/>
<rect x="1178.75" y="1001.84" width="17.50" height="17.50" fill="#70AD47"/>
<rect x="1233.15" y="990.87" width="17.50" height="17.50" fill="#70AD47"/>
<rect x="1288.65" y="952.74" width="17.50" height="17.50" fill="#70AD47"/>
<rect x="1344.05" y="947.02" width="17.50" height="17.50" fill="#70AD47"/>
<rect x="1399.45" y="929.86" width="17.50" height="17.50" fill="#70AD47"/>
<rect x="1454.85" y="895.06" width="17.50" height="17.50" fill="#70AD47"/>
<rect x="960.25" y="1128.64" width="17.50" height="17.50" fill="#FFC000"/>
<rect x="1015.05" y="1125.78" width="17.50" height="17.50" fill="#FFC000"/>
<rect x="1069.85" y="1101.94" width="17.50" height="17.50" fill="#FFC000"/>
<rect x="1125.05" y="1083.35" width="17.50" height="17.50" fill="#FFC000"/>
<rect x="1178.75" y="1045.22" width="17.50" height="17.50" fill="#FFC000"/>
<rect x="1233.15" y="1054.75" width="17.50" height="17.50" fill="#FFC000"/>
<rect x="1288.65" y="1015.66" width="17.50" height="17.50" fill="#FFC000"/>
<rect x="1344.05" y="996.12" width="17.50" height="17.50" fill="#FFC000"/>
<rect x="1399.45" y="1009.46" width="17.50" height="17.50" fill="#FFC000"/>
<rect x="1454.85" y="990.87" width="17.50" height="17.50" fill="#FFC000"/>
<polygon points="969.00,1145.81 978.71,1164.31 959.29,1164.31" fill="#7030A0"/>
<polygon points="1023.80,1132.46 1033.51,1150.96 1014.09,1150.96" fill="#7030A0"/>
<polygon points="1078.60,1080.97 1088.31,1099.47 1068.89,1099.47" fill="#7030A0"/>
<polygon points="1133.80,1066.67 1143.51,1085.17 1124.09,1085.17" fill="#7030A0"/>
<polygon points="1187.50,1021.39 1197.21,1039.89 1177.79,1039.89" fill="#7030A0"/>
<polygon points="1241.90,967.52 1251.61,986.02 1232.19,986.02" fill="#7030A0"/>
<polygon points="1297.40,928.43 1307.11,946.93 1287.69,946.93" fill="#7030A0"/>
<polygon points="1352.80,900.78 1362.51,919.28 1343.09,919.28" fill="#7030A0"/>
<polygon points="1408.20,900.78 1417.91,919.28 1398.49,919.28" fill="#7030A0"/>
<polygon points="1463.60,876.47 1473.31,894.97 1453.89,894.97" fill="#7030A0"/>
<polygon points="969.00,1146.28 978.71,1164.78 959.29,1164.78" fill="#C00000"/>
<polygon points="1023.80,1144.38 1033.51,1162.88 1014.09,1162.88" fill="#C00000"/>
<polygon points="1078.60,1134.84 1088.31,1153.34 1068.89,1153.34" fill="#C00000"/>
<polygon points="1133.80,1119.11 1143.51,1137.61 1124.09,1137.61" fill="#C00000"/>
<polygon points="1187.50,1103.86 1197.21,1122.36 1177.79,1122.36" fill="#C00000"/>
<polygon points="1241.90,1116.25 1251.61,1134.75 1232.19,1134.75" fill="#C00000"/>
<polygon points="1297.40,1108.15 1307.11,1126.65 1287.69,1126.65" fill="#C00000"/>
<polygon points="1352.80,1079.54 1362.51,1098.04 1343.09,1098.04" fill="#C00000"/>
<polygon points="1408.20,1091.46 1417.91,1109.96 1398.49,1109.96" fill="#C00000"/>
<polygon points="1463.60,1081.93 1473.31,1100.43 1453.89,1100.43" fill="#C00000"/>
<line x1="954.80" y1="717.70" x2="1013.60" y2="717.70" stroke="#000" stroke-width="2"/>
<circle cx="982.70" cy="717.70" r="4.75" fill="#000"/>
<text x="1023.51" y="726.40" font-size="24.90" fill="#000">PBS</text>
<line x1="954.80" y1="755.30" x2="1013.60" y2="755.30" stroke="#4472C4" stroke-width="2"/>
<circle cx="982.70" cy="755.30" r="4.75" fill="#4472C4"/>
<text x="1023.51" y="764.00" font-size="24.90" fill="#000">PBS + Laser</text>
<line x1="954.80" y1="792.90" x2="1013.60" y2="792.90" stroke="#70AD47" stroke-width="2"/>
<rect x="977.95" y="788.15" width="9.50" height="9.50" fill="#70AD47"/>
<text x="1023.51" y="801.60" font-size="24.90" fill="#000">PCNH</text>
<line x1="954.80" y1="830.50" x2="1013.60" y2="830.50" stroke="#FFC000" stroke-width="2"/>
<rect x="977.95" y="825.75" width="9.50" height="9.50" fill="#FFC000"/>
<text x="1023.51" y="839.20" font-size="24.90" fill="#000">PCNH + Laser</text>
<line x1="954.80" y1="868.10" x2="1013.60" y2="868.10" stroke="#7030A0" stroke-width="2"/>
<polygon points="982.70,862.33 988.21,872.83 977.19,872.83" fill="#7030A0"/>
<text x="1025.00" y="876.80" font-size="24.90" fill="#000">TRPV2-PCNH</text>
<line x1="954.80" y1="905.70" x2="1013.60" y2="905.70" stroke="#C00000" stroke-width="2"/>
<polygon points="982.70,899.93 988.21,910.43 977.19,910.43" fill="#C00000"/>
<text x="1025.00" y="914.40" font-size="24.90" fill="#000">TRPV2-PCNH + Laser</text>
<text x="1067.41" y="1277.10" font-size="29.10" font-weight="bold" fill="#000">Days post treatment</text>
<text transform="translate(65.90,1115.80) rotate(-90)" x="0" y="0" font-size="29.50" font-weight="bold">Tumour volume (mm<tspan font-size="21.24" dy="-12.09" font-weight="normal">3</tspan><tspan dy="12.09">)</tspan></text>
<text transform="translate(845.50,1111.20) rotate(-90)" x="0" y="0" font-size="29.50" font-weight="bold">Tumour volume (mm<tspan font-size="21.24" dy="-12.09" font-weight="normal">3</tspan><tspan dy="12.09">)</tspan></text>
<path d="M703,921.7 L730.4,921.7 L730.4,1034.2 L720.4,1034.2" fill="none" stroke="#444" stroke-width="2"/>
<line x1="703.00" y1="921.70" x2="728.00" y2="921.70" stroke="#000" stroke-width="2"/>
<line x1="701.80" y1="1016.10" x2="701.80" y2="1052.20" stroke="#000" stroke-width="2"/>
<text transform="translate(754.60,1029.50) rotate(-90)" x="0" y="0" font-size="20.57"><tspan font-style="italic">p</tspan> = 0.0279</text>
<text transform="translate(716.1,1046.5) rotate(-90)" x="0" y="0" font-size="21.5">ns</text>
<path d="M1481.1,870.2 L1528.6,870.2 L1528.6,1094.4 L1481.1,1094.4" fill="none" stroke="#000" stroke-width="2"/>
<path d="M1483.7,1004 L1493.2,1004 L1493.2,1094.4" fill="none" stroke="#000" stroke-width="2"/>
<text transform="translate(1553.20,1032.00) rotate(-90)" x="0" y="0" font-size="20.44"><tspan font-style="italic">p</tspan> = 0.0096</text>
<text transform="translate(1512.40,1087.40) rotate(-90)" x="0" y="0" font-size="20.61"><tspan font-style="italic">p</tspan> &lt; 0.0417</text>
<text x="1597.31" y="667.50" font-size="39.06" font-weight="bold" fill="#000">f</text>
<text x="1687.08" y="684.10" font-size="30.21" fill="#000">HT-29</text>
<text x="1829.13" y="684.10" font-size="29.61" fill="#000">HT-29-TRPV2</text>
<text transform="translate(1619.60,823.43) rotate(-90)" x="0" y="0" font-size="29.12" fill="#000">PBS</text>
<text transform="translate(1619.60,1029.67) rotate(-90)" x="0" y="0" font-size="29.66" fill="#000">PCHN</text>
<text transform="translate(1619.60,1278.09) rotate(-90)" x="0" y="0" font-size="29.35" fill="#000">TRPV2-PCHN</text>
<defs>
<radialGradient id="bg" cx="0.5" cy="0.5" r="0.75"><stop offset="0" stop-color="#ebe9e6"/><stop offset="1" stop-color="#d9d7d3"/></radialGradient>
<linearGradient id="skin" x1="0" y1="0" x2="1" y2="0"><stop offset="0" stop-color="#c49a9c"/><stop offset="0.25" stop-color="#d0aaab"/><stop offset="0.55" stop-color="#d8b6b6"/><stop offset="0.85" stop-color="#cfa9aa"/><stop offset="1" stop-color="#c09496"/></linearGradient>
<radialGradient id="tum" cx="0.45" cy="0.45" r="0.6"><stop offset="0" stop-color="#e0a0a6"/><stop offset="0.7" stop-color="#d68a94"/><stop offset="1" stop-color="#c07884"/></radialGradient>
<radialGradient id="tumP" cx="0.45" cy="0.45" r="0.6"><stop offset="0" stop-color="#d2b0b8"/><stop offset="1" stop-color="#bc98a6"/></radialGradient>
<radialGradient id="tumD" cx="0.45" cy="0.4" r="0.6"><stop offset="0" stop-color="#701828"/><stop offset="0.35" stop-color="#c04050"/><stop offset="1" stop-color="#d07a88"/></radialGradient>
<radialGradient id="tumV" cx="0.5" cy="0.5" r="0.5"><stop offset="0" stop-color="#704070"/><stop offset="1" stop-color="#b08098"/></radialGradient>
<filter id="grain" x="0" y="0" width="100%" height="100%"><feTurbulence type="fractalNoise" baseFrequency="0.9" numOctaves="2" seed="3" result="n"/><feColorMatrix type="matrix" values="0 0 0 0 0  0 0 0 0 0  0 0 0 0 0  0 0 0 0.12 0"/><feComposite in2="SourceGraphic" operator="in"/></filter>
</defs>
<defs>
<linearGradient id="skin2" x1="0" y1="0" x2="0" y2="1"><stop offset="0" stop-color="#dcb8b8"/><stop offset="0.45" stop-color="#d2aeb0"/><stop offset="1" stop-color="#cea6aa"/></linearGradient>
<linearGradient id="skinedge" x1="0" y1="0" x2="1" y2="0"><stop offset="0" stop-color="#7a5858" stop-opacity="0.22"/><stop offset="0.22" stop-color="#7a5858" stop-opacity="0"/><stop offset="0.78" stop-color="#7a5858" stop-opacity="0"/><stop offset="1" stop-color="#7a5858" stop-opacity="0.22"/></linearGradient>
<radialGradient id="bg2" cx="0.5" cy="0.4" r="0.8"><stop offset="0" stop-color="#f2f1ef"/><stop offset="1" stop-color="#e4e2df"/></radialGradient>
<radialGradient id="bruise" cx="0.5" cy="0.5" r="0.5"><stop offset="0" stop-color="#8a7c98" stop-opacity="0.22"/><stop offset="1" stop-color="#7a7098" stop-opacity="0"/></radialGradient>
</defs>
<svg x="1634.60" y="697.80" width="187.60" height="186.20" viewBox="0 0 187.6 186.4" preserveAspectRatio="none">
<rect width="187.6" height="186.4" fill="url(#bg2)"/>
<path d="M50,-2 L132,-2 C134,22 137,42 147,60 C152,80 152,110 147,132 C140,152 118.0,168 100.0,176 L97.0,190 L79.0,190 L76.0,176 C58.0,168 36,152 29,132 C24,110 24,80 29,60 C45,42 48,22 50,-2 Z" fill="url(#skin2)" filter="url(#blur2)"/>
<path d="M50,-2 L132,-2 C134,22 137,42 147,60 C152,80 152,110 147,132 C140,152 118.0,168 100.0,176 L97.0,190 L79.0,190 L76.0,176 C58.0,168 36,152 29,132 C24,110 24,80 29,60 C45,42 48,22 50,-2 Z" fill="url(#skinedge)" filter="url(#blur2)"/>
<path d="M21,104 C28,100 34,106 38,120 C44,140 58,156 74,166 L66,176 C46,166 30,150 24,130 C21,120 20,110 21,104 Z" fill="#e8baae" opacity="0.8" filter="url(#blur1)"/>
<path d="M155,118 C149,116 144,122 140,132 C134,148 120,160 104,168 L112,177 C132,168 146,154 152,138 C155,130 156,124 155,118 Z" fill="#e8baae" opacity="0.8" filter="url(#blur1)"/>
<ellipse cx="33" cy="79" rx="13.5" ry="23.5" fill="url(#tum)" filter="url(#blur1)"/>
<ellipse cx="145" cy="105.5" rx="16" ry="28.5" fill="url(#tum)" filter="url(#blur1)"/>
<polygon points="163.70,119.00 181.40,126.70 172.20,135.30" fill="#000"/>
<rect width="187.6" height="186.4" fill="#808080" filter="url(#grain)" opacity="0.5"/>
</svg>
<rect x="1634.60" y="697.80" width="187.60" height="186.20" fill="none" stroke="#000" stroke-width="2.2"/>
<svg x="1829.50" y="697.80" width="187.20" height="186.20" viewBox="0 0 187.6 186.4" preserveAspectRatio="none">
<rect width="187.6" height="186.4" fill="url(#bg2)"/>
<path d="M40,-2 L137,-2 C139,22 142,42 151,60 C156,80 156,110 151,132 C144,152 121.0,168 103.0,176 L100.0,190 L82.0,190 L79.0,176 C61.0,168 38,152 31,132 C26,110 26,80 31,60 C35,42 38,22 40,-2 Z" fill="url(#skin2)" filter="url(#blur2)"/>
<path d="M40,-2 L137,-2 C139,22 142,42 151,60 C156,80 156,110 151,132 C144,152 121.0,168 103.0,176 L100.0,190 L82.0,190 L79.0,176 C61.0,168 38,152 31,132 C26,110 26,80 31,60 C35,42 38,22 40,-2 Z" fill="url(#skinedge)" filter="url(#blur2)"/>
<path d="M23,104 C30,100 36,106 40,120 C46,140 60,156 76,166 L68,176 C48,166 32,150 26,130 C23,120 22,110 23,104 Z" fill="#e8baae" opacity="0.8" filter="url(#blur1)"/>
<path d="M159,118 C153,116 148,122 144,132 C138,148 124,160 108,168 L116,177 C136,168 150,154 156,138 C159,130 160,124 159,118 Z" fill="#e8baae" opacity="0.8" filter="url(#blur1)"/>
<ellipse cx="40" cy="79" rx="11.5" ry="22.5" fill="url(#tum)" filter="url(#blur1)"/>
<ellipse cx="149.5" cy="99" rx="14" ry="24" fill="url(#tum)" filter="url(#blur1)"/>
<polygon points="162.00,116.00 179.50,124.00 170.00,133.00" fill="#000"/>
<rect width="187.6" height="186.4" fill="#808080" filter="url(#grain)" opacity="0.5"/>
</svg>
<rect x="1829.50" y="697.80" width="187.20" height="186.20" fill="none" stroke="#000" stroke-width="2.2"/>
<svg x="1634.60" y="894.40" width="187.60" height="186.70" viewBox="0 0 187.6 186.4" preserveAspectRatio="none">
<rect width="187.6" height="186.4" fill="url(#bg2)"/>
<path d="M45,-2 L136,-2 C138,22 141,42 155,60 C160,80 160,110 155,132 C148,152 123.0,168 105.0,176 L102.0,190 L84.0,190 L81.0,176 C63.0,168 38,152 31,132 C26,110 26,80 31,60 C40,42 43,22 45,-2 Z" fill="url(#skin2)" filter="url(#blur2)"/>
<path d="M45,-2 L136,-2 C138,22 141,42 155,60 C160,80 160,110 155,132 C148,152 123.0,168 105.0,176 L102.0,190 L84.0,190 L81.0,176 C63.0,168 38,152 31,132 C26,110 26,80 31,60 C40,42 43,22 45,-2 Z" fill="url(#skinedge)" filter="url(#blur2)"/>
<path d="M23,104 C30,100 36,106 40,120 C46,140 60,156 76,166 L68,176 C48,166 32,150 26,130 C23,120 22,110 23,104 Z" fill="#e8baae" opacity="0.8" filter="url(#blur1)"/>
<path d="M163,118 C157,116 152,122 148,132 C142,148 128,160 112,168 L120,177 C140,168 154,154 160,138 C163,130 164,124 163,118 Z" fill="#e8baae" opacity="0.8" filter="url(#blur1)"/>
<ellipse cx="93.0" cy="70" rx="35" ry="45" fill="url(#bruise)"/>
<ellipse cx="46" cy="58" rx="20" ry="25" fill="url(#tumP)" filter="url(#blur1)"/>
<ellipse cx="145" cy="96" rx="16.5" ry="20" fill="url(#tum)" filter="url(#blur1)"/>
<polygon points="162.00,106.00 180.00,114.00 171.00,124.00" fill="#000"/>
<rect width="187.6" height="186.4" fill="#808080" filter="url(#grain)" opacity="0.5"/>
</svg>
<rect x="1634.60" y="894.40" width="187.60" height="186.70" fill="none" stroke="#000" stroke-width="2.2"/>
<svg x="1829.50" y="894.40" width="187.20" height="186.70" viewBox="0 0 187.6 186.4" preserveAspectRatio="none">
<rect width="187.6" height="186.4" fill="url(#bg2)"/>
<path d="M34,-2 L148,-2 C150,22 153,42 153,60 C158,80 158,110 153,132 C146,152 121.0,168 103.0,176 L100.0,190 L82.0,190 L79.0,176 C61.0,168 36,152 29,132 C24,110 24,80 29,60 C29,42 32,22 34,-2 Z" fill="url(#skin2)" filter="url(#blur2)"/>
<path d="M34,-2 L148,-2 C150,22 153,42 153,60 C158,80 158,110 153,132 C146,152 121.0,168 103.0,176 L100.0,190 L82.0,190 L79.0,176 C61.0,168 36,152 29,132 C24,110 24,80 29,60 C29,42 32,22 34,-2 Z" fill="url(#skinedge)" filter="url(#blur2)"/>
<path d="M21,104 C28,100 34,106 38,120 C44,140 58,156 74,166 L66,176 C46,166 30,150 24,130 C21,120 20,110 21,104 Z" fill="#e8baae" opacity="0.8" filter="url(#blur1)"/>
<path d="M161,118 C155,116 150,122 146,132 C140,148 126,160 110,168 L118,177 C138,168 152,154 158,138 C161,130 162,124 161,118 Z" fill="#e8baae" opacity="0.8" filter="url(#blur1)"/>
<ellipse cx="91.0" cy="70" rx="35" ry="45" fill="url(#bruise)"/>
<ellipse cx="43" cy="60" rx="14.5" ry="24" fill="url(#tumD)" filter="url(#blur1)"/>
<ellipse cx="143" cy="80" rx="14.5" ry="18" fill="url(#tum)" filter="url(#blur1)"/>
<polygon points="159.00,95.00 176.50,103.00 167.00,112.00" fill="#000"/>
<rect width="187.6" height="186.4" fill="#808080" filter="url(#grain)" opacity="0.5"/>
</svg>
<rect x="1829.50" y="894.40" width="187.20" height="186.70" fill="none" stroke="#000" stroke-width="2.2"/>
<svg x="1634.60" y="1089.00" width="187.60" height="187.00" viewBox="0 0 187.6 186.4" preserveAspectRatio="none">
<rect width="187.6" height="186.4" fill="url(#bg2)"/>
<path d="M38,-2 L152,-2 C154,22 157,42 155,60 C160,80 160,110 155,132 C148,152 121.0,168 103.0,176 L100.0,190 L82.0,190 L79.0,176 C61.0,168 34,152 27,132 C22,110 22,80 27,60 C33,42 36,22 38,-2 Z" fill="url(#skin2)" filter="url(#blur2)"/>
<path d="M38,-2 L152,-2 C154,22 157,42 155,60 C160,80 160,110 155,132 C148,152 121.0,168 103.0,176 L100.0,190 L82.0,190 L79.0,176 C61.0,168 34,152 27,132 C22,110 22,80 27,60 C33,42 36,22 38,-2 Z" fill="url(#skinedge)" filter="url(#blur2)"/>
<path d="M19,104 C26,100 32,106 36,120 C42,140 56,156 72,166 L64,176 C44,166 28,150 22,130 C19,120 18,110 19,104 Z" fill="#e8baae" opacity="0.8" filter="url(#blur1)"/>
<path d="M163,118 C157,116 152,122 148,132 C142,148 128,160 112,168 L120,177 C140,168 154,154 160,138 C163,130 164,124 163,118 Z" fill="#e8baae" opacity="0.8" filter="url(#blur1)"/>
<ellipse cx="91.0" cy="70" rx="35" ry="45" fill="url(#bruise)"/>
<ellipse cx="39" cy="66" rx="13" ry="21.5" fill="url(#tum)" filter="url(#blur1)"/>
<ellipse cx="152" cy="85" rx="12.5" ry="20" fill="url(#tum)" filter="url(#blur1)"/>
<polygon points="165.50,101.00 183.00,109.00 174.00,119.00" fill="#000"/>
<rect width="187.6" height="186.4" fill="#808080" filter="url(#grain)" opacity="0.5"/>
</svg>
<rect x="1634.60" y="1089.00" width="187.60" height="187.00" fill="none" stroke="#000" stroke-width="2.2"/>
<svg x="1829.50" y="1089.00" width="187.20" height="187.00" viewBox="0 0 187.6 186.4" preserveAspectRatio="none">
<rect width="187.6" height="186.4" fill="url(#bg2)"/>
<path d="M34,-2 L150,-2 C152,22 155,42 153,60 C158,80 158,110 153,132 C146,152 121.0,168 103.0,176 L100.0,190 L82.0,190 L79.0,176 C61.0,168 36,152 29,132 C24,110 24,80 29,60 C29,42 32,22 34,-2 Z" fill="url(#skin2)" filter="url(#blur2)"/>
<path d="M34,-2 L150,-2 C152,22 155,42 153,60 C158,80 158,110 153,132 C146,152 121.0,168 103.0,176 L100.0,190 L82.0,190 L79.0,176 C61.0,168 36,152 29,132 C24,110 24,80 29,60 C29,42 32,22 34,-2 Z" fill="url(#skinedge)" filter="url(#blur2)"/>
<path d="M21,104 C28,100 34,106 38,120 C44,140 58,156 74,166 L66,176 C46,166 30,150 24,130 C21,120 20,110 21,104 Z" fill="#e8baae" opacity="0.8" filter="url(#blur1)"/>
<path d="M161,118 C155,116 150,122 146,132 C140,148 126,160 110,168 L118,177 C138,168 152,154 158,138 C161,130 162,124 161,118 Z" fill="#e8baae" opacity="0.8" filter="url(#blur1)"/>
<ellipse cx="91.0" cy="70" rx="35" ry="45" fill="url(#bruise)"/>
<ellipse cx="41" cy="68.5" rx="17" ry="28.5" fill="url(#tum)" filter="url(#blur1)"/>
<ellipse cx="145" cy="58" rx="6" ry="9" fill="url(#tumV)" filter="url(#blur1)"/>
<polygon points="153.50,68.00 170.50,76.00 161.50,86.00" fill="#000"/>
<rect width="187.6" height="186.4" fill="#808080" filter="url(#grain)" opacity="0.5"/>
</svg>
<rect x="1829.50" y="1089.00" width="187.20" height="187.00" fill="none" stroke="#000" stroke-width="2.2"/>
</svg></body></html>
